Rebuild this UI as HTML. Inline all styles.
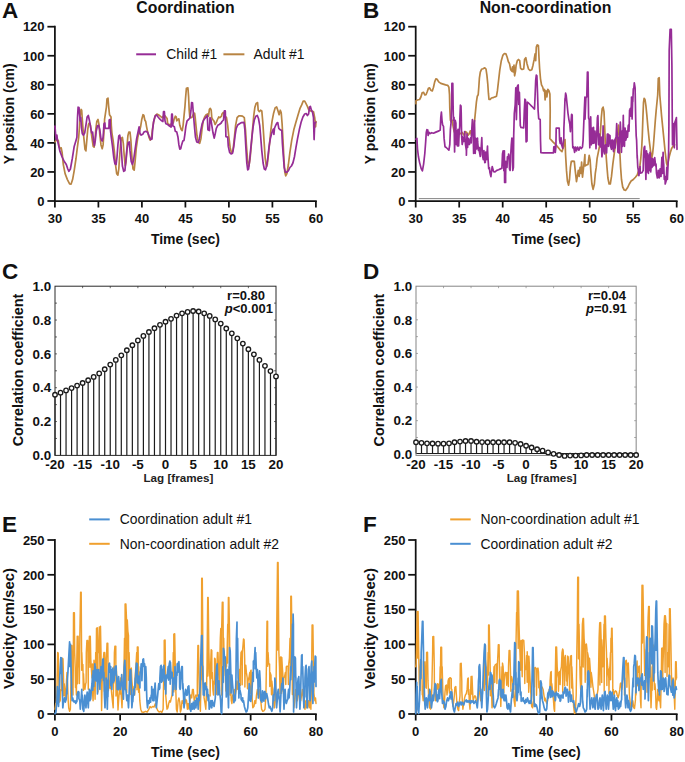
<!DOCTYPE html>
<html><head><meta charset="utf-8"><title>Figure</title>
<style>
html,body{margin:0;padding:0;background:#fff;}
body{width:685px;height:762px;overflow:hidden;font-family:"Liberation Sans",sans-serif;}
svg{display:block;font-family:"Liberation Sans",sans-serif;}
</style></head><body>
<svg width="685" height="762" viewBox="0 0 685 762">
<rect width="685" height="762" fill="#fff"/>
<g id="axes">
<line x1="54.9" y1="25.82" x2="54.9" y2="201.88" stroke="#111111" stroke-width="1.75" stroke-linecap="butt"/>
<line x1="54.02" y1="201" x2="316.77" y2="201" stroke="#111111" stroke-width="1.75" stroke-linecap="butt"/>
<line x1="54.9" y1="201" x2="54.9" y2="207.5" stroke="#111111" stroke-width="1.75" stroke-linecap="butt"/>
<text x="54.9" y="223" font-size="13.0" font-weight="bold" text-anchor="middle" fill="#111111">30</text>
<line x1="98.4" y1="201" x2="98.4" y2="207.5" stroke="#111111" stroke-width="1.75" stroke-linecap="butt"/>
<text x="98.4" y="223" font-size="13.0" font-weight="bold" text-anchor="middle" fill="#111111">35</text>
<line x1="141.9" y1="201" x2="141.9" y2="207.5" stroke="#111111" stroke-width="1.75" stroke-linecap="butt"/>
<text x="141.9" y="223" font-size="13.0" font-weight="bold" text-anchor="middle" fill="#111111">40</text>
<line x1="185.4" y1="201" x2="185.4" y2="207.5" stroke="#111111" stroke-width="1.75" stroke-linecap="butt"/>
<text x="185.4" y="223" font-size="13.0" font-weight="bold" text-anchor="middle" fill="#111111">45</text>
<line x1="228.9" y1="201" x2="228.9" y2="207.5" stroke="#111111" stroke-width="1.75" stroke-linecap="butt"/>
<text x="228.9" y="223" font-size="13.0" font-weight="bold" text-anchor="middle" fill="#111111">50</text>
<line x1="272.4" y1="201" x2="272.4" y2="207.5" stroke="#111111" stroke-width="1.75" stroke-linecap="butt"/>
<text x="272.4" y="223" font-size="13.0" font-weight="bold" text-anchor="middle" fill="#111111">55</text>
<line x1="315.9" y1="201" x2="315.9" y2="207.5" stroke="#111111" stroke-width="1.75" stroke-linecap="butt"/>
<text x="315.9" y="223" font-size="13.0" font-weight="bold" text-anchor="middle" fill="#111111">60</text>
<line x1="47.4" y1="201" x2="54.9" y2="201" stroke="#111111" stroke-width="1.75" stroke-linecap="butt"/>
<text x="44.6" y="205.75" font-size="13.0" font-weight="bold" text-anchor="end" fill="#111111">0</text>
<line x1="47.4" y1="171.95" x2="54.9" y2="171.95" stroke="#111111" stroke-width="1.75" stroke-linecap="butt"/>
<text x="44.6" y="176.7" font-size="13.0" font-weight="bold" text-anchor="end" fill="#111111">20</text>
<line x1="47.4" y1="142.9" x2="54.9" y2="142.9" stroke="#111111" stroke-width="1.75" stroke-linecap="butt"/>
<text x="44.6" y="147.65" font-size="13.0" font-weight="bold" text-anchor="end" fill="#111111">40</text>
<line x1="47.4" y1="113.85" x2="54.9" y2="113.85" stroke="#111111" stroke-width="1.75" stroke-linecap="butt"/>
<text x="44.6" y="118.6" font-size="13.0" font-weight="bold" text-anchor="end" fill="#111111">60</text>
<line x1="47.4" y1="84.8" x2="54.9" y2="84.8" stroke="#111111" stroke-width="1.75" stroke-linecap="butt"/>
<text x="44.6" y="89.55" font-size="13.0" font-weight="bold" text-anchor="end" fill="#111111">80</text>
<line x1="47.4" y1="55.75" x2="54.9" y2="55.75" stroke="#111111" stroke-width="1.75" stroke-linecap="butt"/>
<text x="44.6" y="60.5" font-size="13.0" font-weight="bold" text-anchor="end" fill="#111111">100</text>
<line x1="47.4" y1="26.7" x2="54.9" y2="26.7" stroke="#111111" stroke-width="1.75" stroke-linecap="butt"/>
<text x="44.6" y="31.45" font-size="13.0" font-weight="bold" text-anchor="end" fill="#111111">120</text>
<text x="13.9" y="113.85" font-size="14" font-weight="bold" text-anchor="middle" fill="#111111" transform="rotate(-90 13.9 113.85)">Y position (cm)</text>
<text x="185.4" y="244.4" font-size="14" font-weight="bold" text-anchor="middle" fill="#111111">Time (sec)</text>
<text x="185.5" y="13" font-size="15.8" font-weight="bold" text-anchor="middle" fill="#111111">Coordination</text>
<line x1="415.7" y1="25.82" x2="415.7" y2="201.88" stroke="#111111" stroke-width="1.75" stroke-linecap="butt"/>
<line x1="414.82" y1="201" x2="677.58" y2="201" stroke="#111111" stroke-width="1.75" stroke-linecap="butt"/>
<line x1="415.7" y1="201" x2="415.7" y2="207.5" stroke="#111111" stroke-width="1.75" stroke-linecap="butt"/>
<text x="415.7" y="223" font-size="13.0" font-weight="bold" text-anchor="middle" fill="#111111">30</text>
<line x1="459.2" y1="201" x2="459.2" y2="207.5" stroke="#111111" stroke-width="1.75" stroke-linecap="butt"/>
<text x="459.2" y="223" font-size="13.0" font-weight="bold" text-anchor="middle" fill="#111111">35</text>
<line x1="502.7" y1="201" x2="502.7" y2="207.5" stroke="#111111" stroke-width="1.75" stroke-linecap="butt"/>
<text x="502.7" y="223" font-size="13.0" font-weight="bold" text-anchor="middle" fill="#111111">40</text>
<line x1="546.2" y1="201" x2="546.2" y2="207.5" stroke="#111111" stroke-width="1.75" stroke-linecap="butt"/>
<text x="546.2" y="223" font-size="13.0" font-weight="bold" text-anchor="middle" fill="#111111">45</text>
<line x1="589.7" y1="201" x2="589.7" y2="207.5" stroke="#111111" stroke-width="1.75" stroke-linecap="butt"/>
<text x="589.7" y="223" font-size="13.0" font-weight="bold" text-anchor="middle" fill="#111111">50</text>
<line x1="633.2" y1="201" x2="633.2" y2="207.5" stroke="#111111" stroke-width="1.75" stroke-linecap="butt"/>
<text x="633.2" y="223" font-size="13.0" font-weight="bold" text-anchor="middle" fill="#111111">55</text>
<line x1="676.7" y1="201" x2="676.7" y2="207.5" stroke="#111111" stroke-width="1.75" stroke-linecap="butt"/>
<text x="676.7" y="223" font-size="13.0" font-weight="bold" text-anchor="middle" fill="#111111">60</text>
<line x1="408.2" y1="201" x2="415.7" y2="201" stroke="#111111" stroke-width="1.75" stroke-linecap="butt"/>
<text x="405.4" y="205.75" font-size="13.0" font-weight="bold" text-anchor="end" fill="#111111">0</text>
<line x1="408.2" y1="171.95" x2="415.7" y2="171.95" stroke="#111111" stroke-width="1.75" stroke-linecap="butt"/>
<text x="405.4" y="176.7" font-size="13.0" font-weight="bold" text-anchor="end" fill="#111111">20</text>
<line x1="408.2" y1="142.9" x2="415.7" y2="142.9" stroke="#111111" stroke-width="1.75" stroke-linecap="butt"/>
<text x="405.4" y="147.65" font-size="13.0" font-weight="bold" text-anchor="end" fill="#111111">40</text>
<line x1="408.2" y1="113.85" x2="415.7" y2="113.85" stroke="#111111" stroke-width="1.75" stroke-linecap="butt"/>
<text x="405.4" y="118.6" font-size="13.0" font-weight="bold" text-anchor="end" fill="#111111">60</text>
<line x1="408.2" y1="84.8" x2="415.7" y2="84.8" stroke="#111111" stroke-width="1.75" stroke-linecap="butt"/>
<text x="405.4" y="89.55" font-size="13.0" font-weight="bold" text-anchor="end" fill="#111111">80</text>
<line x1="408.2" y1="55.75" x2="415.7" y2="55.75" stroke="#111111" stroke-width="1.75" stroke-linecap="butt"/>
<text x="405.4" y="60.5" font-size="13.0" font-weight="bold" text-anchor="end" fill="#111111">100</text>
<line x1="408.2" y1="26.7" x2="415.7" y2="26.7" stroke="#111111" stroke-width="1.75" stroke-linecap="butt"/>
<text x="405.4" y="31.45" font-size="13.0" font-weight="bold" text-anchor="end" fill="#111111">120</text>
<text x="374.7" y="113.85" font-size="14" font-weight="bold" text-anchor="middle" fill="#111111" transform="rotate(-90 374.7 113.85)">Y position (cm)</text>
<text x="546.2" y="244.4" font-size="14" font-weight="bold" text-anchor="middle" fill="#111111">Time (sec)</text>
<text x="545.5" y="13" font-size="15.8" font-weight="bold" text-anchor="middle" fill="#111111">Non-coordination</text>
<text x="2" y="17.6" font-size="22.5" font-weight="bold" text-anchor="start" fill="#111111">A</text>
<text x="363" y="17.6" font-size="22.5" font-weight="bold" text-anchor="start" fill="#111111">B</text>
<line x1="136.2" y1="54.3" x2="156" y2="54.3" stroke="#962c96" stroke-width="2.0" stroke-linecap="butt"/>
<text x="166.3" y="59.2" font-size="13.9" font-weight="normal" text-anchor="start" fill="#111111">Child #1</text>
<line x1="223.4" y1="54.3" x2="244.4" y2="54.3" stroke="#b88443" stroke-width="2.0" stroke-linecap="butt"/>
<text x="253.6" y="59.2" font-size="13.9" font-weight="normal" text-anchor="start" fill="#111111">Adult #1</text>
<line x1="55" y1="455.4" x2="55" y2="396.75" stroke="#1c1c1c" stroke-width="1.2" stroke-linecap="butt"/>
<line x1="60.52" y1="455.4" x2="60.52" y2="394.65" stroke="#1c1c1c" stroke-width="1.2" stroke-linecap="butt"/>
<line x1="66.05" y1="455.4" x2="66.05" y2="392.4" stroke="#1c1c1c" stroke-width="1.2" stroke-linecap="butt"/>
<line x1="71.58" y1="455.4" x2="71.58" y2="390.1" stroke="#1c1c1c" stroke-width="1.2" stroke-linecap="butt"/>
<line x1="77.1" y1="455.4" x2="77.1" y2="387.6" stroke="#1c1c1c" stroke-width="1.2" stroke-linecap="butt"/>
<line x1="82.62" y1="455.4" x2="82.62" y2="385" stroke="#1c1c1c" stroke-width="1.2" stroke-linecap="butt"/>
<line x1="88.15" y1="455.4" x2="88.15" y2="382.2" stroke="#1c1c1c" stroke-width="1.2" stroke-linecap="butt"/>
<line x1="93.68" y1="455.4" x2="93.68" y2="378.9" stroke="#1c1c1c" stroke-width="1.2" stroke-linecap="butt"/>
<line x1="99.2" y1="455.4" x2="99.2" y2="375.4" stroke="#1c1c1c" stroke-width="1.2" stroke-linecap="butt"/>
<line x1="104.72" y1="455.4" x2="104.72" y2="371.2" stroke="#1c1c1c" stroke-width="1.2" stroke-linecap="butt"/>
<line x1="110.25" y1="455.4" x2="110.25" y2="366.6" stroke="#1c1c1c" stroke-width="1.2" stroke-linecap="butt"/>
<line x1="115.78" y1="455.4" x2="115.78" y2="361.9" stroke="#1c1c1c" stroke-width="1.2" stroke-linecap="butt"/>
<line x1="121.3" y1="455.4" x2="121.3" y2="357.3" stroke="#1c1c1c" stroke-width="1.2" stroke-linecap="butt"/>
<line x1="126.83" y1="455.4" x2="126.83" y2="352.25" stroke="#1c1c1c" stroke-width="1.2" stroke-linecap="butt"/>
<line x1="132.35" y1="455.4" x2="132.35" y2="347.2" stroke="#1c1c1c" stroke-width="1.2" stroke-linecap="butt"/>
<line x1="137.88" y1="455.4" x2="137.88" y2="342.4" stroke="#1c1c1c" stroke-width="1.2" stroke-linecap="butt"/>
<line x1="143.4" y1="455.4" x2="143.4" y2="337.9" stroke="#1c1c1c" stroke-width="1.2" stroke-linecap="butt"/>
<line x1="148.93" y1="455.4" x2="148.93" y2="334" stroke="#1c1c1c" stroke-width="1.2" stroke-linecap="butt"/>
<line x1="154.45" y1="455.4" x2="154.45" y2="330.2" stroke="#1c1c1c" stroke-width="1.2" stroke-linecap="butt"/>
<line x1="159.98" y1="455.4" x2="159.98" y2="326.85" stroke="#1c1c1c" stroke-width="1.2" stroke-linecap="butt"/>
<line x1="165.5" y1="455.4" x2="165.5" y2="323.7" stroke="#1c1c1c" stroke-width="1.2" stroke-linecap="butt"/>
<line x1="171.03" y1="455.4" x2="171.03" y2="320.8" stroke="#1c1c1c" stroke-width="1.2" stroke-linecap="butt"/>
<line x1="176.55" y1="455.4" x2="176.55" y2="317.6" stroke="#1c1c1c" stroke-width="1.2" stroke-linecap="butt"/>
<line x1="182.07" y1="455.4" x2="182.07" y2="315.3" stroke="#1c1c1c" stroke-width="1.2" stroke-linecap="butt"/>
<line x1="187.6" y1="455.4" x2="187.6" y2="313.9" stroke="#1c1c1c" stroke-width="1.2" stroke-linecap="butt"/>
<line x1="193.12" y1="455.4" x2="193.12" y2="313" stroke="#1c1c1c" stroke-width="1.2" stroke-linecap="butt"/>
<line x1="198.65" y1="455.4" x2="198.65" y2="313.5" stroke="#1c1c1c" stroke-width="1.2" stroke-linecap="butt"/>
<line x1="204.18" y1="455.4" x2="204.18" y2="315.3" stroke="#1c1c1c" stroke-width="1.2" stroke-linecap="butt"/>
<line x1="209.7" y1="455.4" x2="209.7" y2="317.9" stroke="#1c1c1c" stroke-width="1.2" stroke-linecap="butt"/>
<line x1="215.23" y1="455.4" x2="215.23" y2="321.4" stroke="#1c1c1c" stroke-width="1.2" stroke-linecap="butt"/>
<line x1="220.75" y1="455.4" x2="220.75" y2="325.6" stroke="#1c1c1c" stroke-width="1.2" stroke-linecap="butt"/>
<line x1="226.28" y1="455.4" x2="226.28" y2="330.5" stroke="#1c1c1c" stroke-width="1.2" stroke-linecap="butt"/>
<line x1="231.8" y1="455.4" x2="231.8" y2="335.3" stroke="#1c1c1c" stroke-width="1.2" stroke-linecap="butt"/>
<line x1="237.33" y1="455.4" x2="237.33" y2="340.3" stroke="#1c1c1c" stroke-width="1.2" stroke-linecap="butt"/>
<line x1="242.85" y1="455.4" x2="242.85" y2="345.6" stroke="#1c1c1c" stroke-width="1.2" stroke-linecap="butt"/>
<line x1="248.38" y1="455.4" x2="248.38" y2="351.2" stroke="#1c1c1c" stroke-width="1.2" stroke-linecap="butt"/>
<line x1="253.9" y1="455.4" x2="253.9" y2="356.3" stroke="#1c1c1c" stroke-width="1.2" stroke-linecap="butt"/>
<line x1="259.43" y1="455.4" x2="259.43" y2="361.9" stroke="#1c1c1c" stroke-width="1.2" stroke-linecap="butt"/>
<line x1="264.95" y1="455.4" x2="264.95" y2="367.8" stroke="#1c1c1c" stroke-width="1.2" stroke-linecap="butt"/>
<line x1="270.48" y1="455.4" x2="270.48" y2="373.1" stroke="#1c1c1c" stroke-width="1.2" stroke-linecap="butt"/>
<line x1="276" y1="455.4" x2="276" y2="378.4" stroke="#1c1c1c" stroke-width="1.2" stroke-linecap="butt"/>
<rect x="55" y="286.2" width="221.00" height="169.20" fill="none" stroke="#2a2a2a" stroke-width="1"/>
<circle cx="55.00" cy="394.75" r="2.25" fill="#fff" stroke="#1c1c1c" stroke-width="1.35"/>
<circle cx="60.52" cy="392.65" r="2.25" fill="#fff" stroke="#1c1c1c" stroke-width="1.35"/>
<circle cx="66.05" cy="390.40" r="2.25" fill="#fff" stroke="#1c1c1c" stroke-width="1.35"/>
<circle cx="71.58" cy="388.10" r="2.25" fill="#fff" stroke="#1c1c1c" stroke-width="1.35"/>
<circle cx="77.10" cy="385.60" r="2.25" fill="#fff" stroke="#1c1c1c" stroke-width="1.35"/>
<circle cx="82.62" cy="383.00" r="2.25" fill="#fff" stroke="#1c1c1c" stroke-width="1.35"/>
<circle cx="88.15" cy="380.20" r="2.25" fill="#fff" stroke="#1c1c1c" stroke-width="1.35"/>
<circle cx="93.68" cy="376.90" r="2.25" fill="#fff" stroke="#1c1c1c" stroke-width="1.35"/>
<circle cx="99.20" cy="373.40" r="2.25" fill="#fff" stroke="#1c1c1c" stroke-width="1.35"/>
<circle cx="104.72" cy="369.20" r="2.25" fill="#fff" stroke="#1c1c1c" stroke-width="1.35"/>
<circle cx="110.25" cy="364.60" r="2.25" fill="#fff" stroke="#1c1c1c" stroke-width="1.35"/>
<circle cx="115.78" cy="359.90" r="2.25" fill="#fff" stroke="#1c1c1c" stroke-width="1.35"/>
<circle cx="121.30" cy="355.30" r="2.25" fill="#fff" stroke="#1c1c1c" stroke-width="1.35"/>
<circle cx="126.83" cy="350.25" r="2.25" fill="#fff" stroke="#1c1c1c" stroke-width="1.35"/>
<circle cx="132.35" cy="345.20" r="2.25" fill="#fff" stroke="#1c1c1c" stroke-width="1.35"/>
<circle cx="137.88" cy="340.40" r="2.25" fill="#fff" stroke="#1c1c1c" stroke-width="1.35"/>
<circle cx="143.40" cy="335.90" r="2.25" fill="#fff" stroke="#1c1c1c" stroke-width="1.35"/>
<circle cx="148.93" cy="332.00" r="2.25" fill="#fff" stroke="#1c1c1c" stroke-width="1.35"/>
<circle cx="154.45" cy="328.20" r="2.25" fill="#fff" stroke="#1c1c1c" stroke-width="1.35"/>
<circle cx="159.98" cy="324.85" r="2.25" fill="#fff" stroke="#1c1c1c" stroke-width="1.35"/>
<circle cx="165.50" cy="321.70" r="2.25" fill="#fff" stroke="#1c1c1c" stroke-width="1.35"/>
<circle cx="171.03" cy="318.80" r="2.25" fill="#fff" stroke="#1c1c1c" stroke-width="1.35"/>
<circle cx="176.55" cy="315.60" r="2.25" fill="#fff" stroke="#1c1c1c" stroke-width="1.35"/>
<circle cx="182.07" cy="313.30" r="2.25" fill="#fff" stroke="#1c1c1c" stroke-width="1.35"/>
<circle cx="187.60" cy="311.90" r="2.25" fill="#fff" stroke="#1c1c1c" stroke-width="1.35"/>
<circle cx="193.12" cy="311.00" r="2.25" fill="#fff" stroke="#1c1c1c" stroke-width="1.35"/>
<circle cx="198.65" cy="311.50" r="2.25" fill="#fff" stroke="#1c1c1c" stroke-width="1.35"/>
<circle cx="204.18" cy="313.30" r="2.25" fill="#fff" stroke="#1c1c1c" stroke-width="1.35"/>
<circle cx="209.70" cy="315.90" r="2.25" fill="#fff" stroke="#1c1c1c" stroke-width="1.35"/>
<circle cx="215.23" cy="319.40" r="2.25" fill="#fff" stroke="#1c1c1c" stroke-width="1.35"/>
<circle cx="220.75" cy="323.60" r="2.25" fill="#fff" stroke="#1c1c1c" stroke-width="1.35"/>
<circle cx="226.28" cy="328.50" r="2.25" fill="#fff" stroke="#1c1c1c" stroke-width="1.35"/>
<circle cx="231.80" cy="333.30" r="2.25" fill="#fff" stroke="#1c1c1c" stroke-width="1.35"/>
<circle cx="237.33" cy="338.30" r="2.25" fill="#fff" stroke="#1c1c1c" stroke-width="1.35"/>
<circle cx="242.85" cy="343.60" r="2.25" fill="#fff" stroke="#1c1c1c" stroke-width="1.35"/>
<circle cx="248.38" cy="349.20" r="2.25" fill="#fff" stroke="#1c1c1c" stroke-width="1.35"/>
<circle cx="253.90" cy="354.30" r="2.25" fill="#fff" stroke="#1c1c1c" stroke-width="1.35"/>
<circle cx="259.43" cy="359.90" r="2.25" fill="#fff" stroke="#1c1c1c" stroke-width="1.35"/>
<circle cx="264.95" cy="365.80" r="2.25" fill="#fff" stroke="#1c1c1c" stroke-width="1.35"/>
<circle cx="270.48" cy="371.10" r="2.25" fill="#fff" stroke="#1c1c1c" stroke-width="1.35"/>
<circle cx="276.00" cy="376.40" r="2.25" fill="#fff" stroke="#1c1c1c" stroke-width="1.35"/>
<line x1="82.62" y1="286.2" x2="82.62" y2="288.2" stroke="#2a2a2a" stroke-width="0.7" stroke-linecap="butt"/>
<line x1="110.25" y1="286.2" x2="110.25" y2="288.2" stroke="#2a2a2a" stroke-width="0.7" stroke-linecap="butt"/>
<line x1="137.88" y1="286.2" x2="137.88" y2="288.2" stroke="#2a2a2a" stroke-width="0.7" stroke-linecap="butt"/>
<line x1="165.5" y1="286.2" x2="165.5" y2="288.2" stroke="#2a2a2a" stroke-width="0.7" stroke-linecap="butt"/>
<line x1="193.12" y1="286.2" x2="193.12" y2="288.2" stroke="#2a2a2a" stroke-width="0.7" stroke-linecap="butt"/>
<line x1="220.75" y1="286.2" x2="220.75" y2="288.2" stroke="#2a2a2a" stroke-width="0.7" stroke-linecap="butt"/>
<line x1="248.38" y1="286.2" x2="248.38" y2="288.2" stroke="#2a2a2a" stroke-width="0.7" stroke-linecap="butt"/>
<line x1="55" y1="438.48" x2="57" y2="438.48" stroke="#2a2a2a" stroke-width="0.7" stroke-linecap="butt"/>
<line x1="276" y1="438.48" x2="274" y2="438.48" stroke="#2a2a2a" stroke-width="0.7" stroke-linecap="butt"/>
<line x1="55" y1="421.56" x2="57" y2="421.56" stroke="#2a2a2a" stroke-width="0.7" stroke-linecap="butt"/>
<line x1="276" y1="421.56" x2="274" y2="421.56" stroke="#2a2a2a" stroke-width="0.7" stroke-linecap="butt"/>
<line x1="55" y1="404.64" x2="57" y2="404.64" stroke="#2a2a2a" stroke-width="0.7" stroke-linecap="butt"/>
<line x1="276" y1="404.64" x2="274" y2="404.64" stroke="#2a2a2a" stroke-width="0.7" stroke-linecap="butt"/>
<line x1="55" y1="387.72" x2="57" y2="387.72" stroke="#2a2a2a" stroke-width="0.7" stroke-linecap="butt"/>
<line x1="276" y1="387.72" x2="274" y2="387.72" stroke="#2a2a2a" stroke-width="0.7" stroke-linecap="butt"/>
<line x1="55" y1="370.8" x2="57" y2="370.8" stroke="#2a2a2a" stroke-width="0.7" stroke-linecap="butt"/>
<line x1="276" y1="370.8" x2="274" y2="370.8" stroke="#2a2a2a" stroke-width="0.7" stroke-linecap="butt"/>
<line x1="55" y1="353.88" x2="57" y2="353.88" stroke="#2a2a2a" stroke-width="0.7" stroke-linecap="butt"/>
<line x1="276" y1="353.88" x2="274" y2="353.88" stroke="#2a2a2a" stroke-width="0.7" stroke-linecap="butt"/>
<line x1="55" y1="336.96" x2="57" y2="336.96" stroke="#2a2a2a" stroke-width="0.7" stroke-linecap="butt"/>
<line x1="276" y1="336.96" x2="274" y2="336.96" stroke="#2a2a2a" stroke-width="0.7" stroke-linecap="butt"/>
<line x1="55" y1="320.04" x2="57" y2="320.04" stroke="#2a2a2a" stroke-width="0.7" stroke-linecap="butt"/>
<line x1="276" y1="320.04" x2="274" y2="320.04" stroke="#2a2a2a" stroke-width="0.7" stroke-linecap="butt"/>
<line x1="55" y1="303.12" x2="57" y2="303.12" stroke="#2a2a2a" stroke-width="0.7" stroke-linecap="butt"/>
<line x1="276" y1="303.12" x2="274" y2="303.12" stroke="#2a2a2a" stroke-width="0.7" stroke-linecap="butt"/>
<text x="55" y="468.5" font-size="13.4" font-weight="bold" text-anchor="middle" fill="#111111">-20</text>
<text x="82.62" y="468.5" font-size="13.4" font-weight="bold" text-anchor="middle" fill="#111111">-15</text>
<text x="110.25" y="468.5" font-size="13.4" font-weight="bold" text-anchor="middle" fill="#111111">-10</text>
<text x="137.88" y="468.5" font-size="13.4" font-weight="bold" text-anchor="middle" fill="#111111">-5</text>
<text x="165.5" y="468.5" font-size="13.4" font-weight="bold" text-anchor="middle" fill="#111111">0</text>
<text x="193.12" y="468.5" font-size="13.4" font-weight="bold" text-anchor="middle" fill="#111111">5</text>
<text x="220.75" y="468.5" font-size="13.4" font-weight="bold" text-anchor="middle" fill="#111111">10</text>
<text x="248.38" y="468.5" font-size="13.4" font-weight="bold" text-anchor="middle" fill="#111111">15</text>
<text x="276" y="468.5" font-size="13.4" font-weight="bold" text-anchor="middle" fill="#111111">20</text>
<text x="51.2" y="460.1" font-size="13.4" font-weight="bold" text-anchor="end" fill="#111111">0.0</text>
<text x="51.2" y="426.26" font-size="13.4" font-weight="bold" text-anchor="end" fill="#111111">0.2</text>
<text x="51.2" y="392.42" font-size="13.4" font-weight="bold" text-anchor="end" fill="#111111">0.4</text>
<text x="51.2" y="358.58" font-size="13.4" font-weight="bold" text-anchor="end" fill="#111111">0.6</text>
<text x="51.2" y="324.74" font-size="13.4" font-weight="bold" text-anchor="end" fill="#111111">0.8</text>
<text x="51.2" y="290.9" font-size="13.4" font-weight="bold" text-anchor="end" fill="#111111">1.0</text>
<text x="23" y="370" font-size="14.4" font-weight="bold" text-anchor="middle" fill="#111111" transform="rotate(-90 23 370)">Correlation coefficient</text>
<text x="178.4" y="482" font-size="11.65" font-weight="bold" text-anchor="middle" fill="#222">Lag [frames]</text>
<text x="2" y="278.5" font-size="22.5" font-weight="bold" text-anchor="start" fill="#111111">C</text>
<text x="227.1" y="300.2" font-size="13" font-weight="bold" text-anchor="start" fill="#111111">r=0.80</text>
<text x="224.8" y="313.3" font-size="13" font-weight="bold" fill="#111111"><tspan font-style="italic">p</tspan>&lt;0.001</text>
<line x1="416" y1="453.5" x2="416" y2="444.25" stroke="#1c1c1c" stroke-width="1.2" stroke-linecap="butt"/>
<line x1="421.5" y1="453.5" x2="421.5" y2="444.8" stroke="#1c1c1c" stroke-width="1.2" stroke-linecap="butt"/>
<line x1="427.01" y1="453.5" x2="427.01" y2="445.3" stroke="#1c1c1c" stroke-width="1.2" stroke-linecap="butt"/>
<line x1="432.51" y1="453.5" x2="432.51" y2="445.5" stroke="#1c1c1c" stroke-width="1.2" stroke-linecap="butt"/>
<line x1="438.02" y1="453.5" x2="438.02" y2="445.65" stroke="#1c1c1c" stroke-width="1.2" stroke-linecap="butt"/>
<line x1="443.52" y1="453.5" x2="443.52" y2="445.65" stroke="#1c1c1c" stroke-width="1.2" stroke-linecap="butt"/>
<line x1="449.02" y1="453.5" x2="449.02" y2="445.3" stroke="#1c1c1c" stroke-width="1.2" stroke-linecap="butt"/>
<line x1="454.53" y1="453.5" x2="454.53" y2="444.25" stroke="#1c1c1c" stroke-width="1.2" stroke-linecap="butt"/>
<line x1="460.03" y1="453.5" x2="460.03" y2="443.55" stroke="#1c1c1c" stroke-width="1.2" stroke-linecap="butt"/>
<line x1="465.54" y1="453.5" x2="465.54" y2="443" stroke="#1c1c1c" stroke-width="1.2" stroke-linecap="butt"/>
<line x1="471.04" y1="453.5" x2="471.04" y2="443" stroke="#1c1c1c" stroke-width="1.2" stroke-linecap="butt"/>
<line x1="476.54" y1="453.5" x2="476.54" y2="443.7" stroke="#1c1c1c" stroke-width="1.2" stroke-linecap="butt"/>
<line x1="482.05" y1="453.5" x2="482.05" y2="444.1" stroke="#1c1c1c" stroke-width="1.2" stroke-linecap="butt"/>
<line x1="487.55" y1="453.5" x2="487.55" y2="444.25" stroke="#1c1c1c" stroke-width="1.2" stroke-linecap="butt"/>
<line x1="493.06" y1="453.5" x2="493.06" y2="444.25" stroke="#1c1c1c" stroke-width="1.2" stroke-linecap="butt"/>
<line x1="498.56" y1="453.5" x2="498.56" y2="444.25" stroke="#1c1c1c" stroke-width="1.2" stroke-linecap="butt"/>
<line x1="504.06" y1="453.5" x2="504.06" y2="444.25" stroke="#1c1c1c" stroke-width="1.2" stroke-linecap="butt"/>
<line x1="509.57" y1="453.5" x2="509.57" y2="444.25" stroke="#1c1c1c" stroke-width="1.2" stroke-linecap="butt"/>
<line x1="515.07" y1="453.5" x2="515.07" y2="444.8" stroke="#1c1c1c" stroke-width="1.2" stroke-linecap="butt"/>
<line x1="520.58" y1="453.5" x2="520.58" y2="446" stroke="#1c1c1c" stroke-width="1.2" stroke-linecap="butt"/>
<line x1="526.08" y1="453.5" x2="526.08" y2="447.75" stroke="#1c1c1c" stroke-width="1.2" stroke-linecap="butt"/>
<line x1="531.58" y1="453.5" x2="531.58" y2="449.5" stroke="#1c1c1c" stroke-width="1.2" stroke-linecap="butt"/>
<line x1="537.09" y1="453.5" x2="537.09" y2="451.25" stroke="#1c1c1c" stroke-width="1.2" stroke-linecap="butt"/>
<line x1="542.59" y1="453.5" x2="542.59" y2="452.65" stroke="#1c1c1c" stroke-width="1.2" stroke-linecap="butt"/>
<line x1="416" y1="453.5" x2="636.16" y2="453.5" stroke="#1c1c1c" stroke-width="1.0" stroke-linecap="butt"/>
<rect x="416" y="286.2" width="220.16" height="169.20" fill="none" stroke="#858585" stroke-width="1"/>
<circle cx="416.00" cy="442.25" r="2.25" fill="#fff" stroke="#1c1c1c" stroke-width="1.35"/>
<circle cx="421.50" cy="442.80" r="2.25" fill="#fff" stroke="#1c1c1c" stroke-width="1.35"/>
<circle cx="427.01" cy="443.30" r="2.25" fill="#fff" stroke="#1c1c1c" stroke-width="1.35"/>
<circle cx="432.51" cy="443.50" r="2.25" fill="#fff" stroke="#1c1c1c" stroke-width="1.35"/>
<circle cx="438.02" cy="443.65" r="2.25" fill="#fff" stroke="#1c1c1c" stroke-width="1.35"/>
<circle cx="443.52" cy="443.65" r="2.25" fill="#fff" stroke="#1c1c1c" stroke-width="1.35"/>
<circle cx="449.02" cy="443.30" r="2.25" fill="#fff" stroke="#1c1c1c" stroke-width="1.35"/>
<circle cx="454.53" cy="442.25" r="2.25" fill="#fff" stroke="#1c1c1c" stroke-width="1.35"/>
<circle cx="460.03" cy="441.55" r="2.25" fill="#fff" stroke="#1c1c1c" stroke-width="1.35"/>
<circle cx="465.54" cy="441.00" r="2.25" fill="#fff" stroke="#1c1c1c" stroke-width="1.35"/>
<circle cx="471.04" cy="441.00" r="2.25" fill="#fff" stroke="#1c1c1c" stroke-width="1.35"/>
<circle cx="476.54" cy="441.70" r="2.25" fill="#fff" stroke="#1c1c1c" stroke-width="1.35"/>
<circle cx="482.05" cy="442.10" r="2.25" fill="#fff" stroke="#1c1c1c" stroke-width="1.35"/>
<circle cx="487.55" cy="442.25" r="2.25" fill="#fff" stroke="#1c1c1c" stroke-width="1.35"/>
<circle cx="493.06" cy="442.25" r="2.25" fill="#fff" stroke="#1c1c1c" stroke-width="1.35"/>
<circle cx="498.56" cy="442.25" r="2.25" fill="#fff" stroke="#1c1c1c" stroke-width="1.35"/>
<circle cx="504.06" cy="442.25" r="2.25" fill="#fff" stroke="#1c1c1c" stroke-width="1.35"/>
<circle cx="509.57" cy="442.25" r="2.25" fill="#fff" stroke="#1c1c1c" stroke-width="1.35"/>
<circle cx="515.07" cy="442.80" r="2.25" fill="#fff" stroke="#1c1c1c" stroke-width="1.35"/>
<circle cx="520.58" cy="444.00" r="2.25" fill="#fff" stroke="#1c1c1c" stroke-width="1.35"/>
<circle cx="526.08" cy="445.75" r="2.25" fill="#fff" stroke="#1c1c1c" stroke-width="1.35"/>
<circle cx="531.58" cy="447.50" r="2.25" fill="#fff" stroke="#1c1c1c" stroke-width="1.35"/>
<circle cx="537.09" cy="449.25" r="2.25" fill="#fff" stroke="#1c1c1c" stroke-width="1.35"/>
<circle cx="542.59" cy="450.65" r="2.25" fill="#fff" stroke="#1c1c1c" stroke-width="1.35"/>
<circle cx="548.10" cy="452.40" r="2.25" fill="#fff" stroke="#1c1c1c" stroke-width="1.35"/>
<circle cx="553.60" cy="453.80" r="2.25" fill="#fff" stroke="#1c1c1c" stroke-width="1.35"/>
<circle cx="559.10" cy="455.00" r="2.25" fill="#fff" stroke="#1c1c1c" stroke-width="1.35"/>
<circle cx="564.61" cy="455.90" r="2.25" fill="#fff" stroke="#1c1c1c" stroke-width="1.35"/>
<circle cx="570.11" cy="455.55" r="2.25" fill="#fff" stroke="#1c1c1c" stroke-width="1.35"/>
<circle cx="575.62" cy="455.55" r="2.25" fill="#fff" stroke="#1c1c1c" stroke-width="1.35"/>
<circle cx="581.12" cy="455.40" r="2.25" fill="#fff" stroke="#1c1c1c" stroke-width="1.35"/>
<circle cx="586.62" cy="455.00" r="2.25" fill="#fff" stroke="#1c1c1c" stroke-width="1.35"/>
<circle cx="592.13" cy="455.00" r="2.25" fill="#fff" stroke="#1c1c1c" stroke-width="1.35"/>
<circle cx="597.63" cy="455.00" r="2.25" fill="#fff" stroke="#1c1c1c" stroke-width="1.35"/>
<circle cx="603.14" cy="455.00" r="2.25" fill="#fff" stroke="#1c1c1c" stroke-width="1.35"/>
<circle cx="608.64" cy="455.00" r="2.25" fill="#fff" stroke="#1c1c1c" stroke-width="1.35"/>
<circle cx="614.14" cy="455.00" r="2.25" fill="#fff" stroke="#1c1c1c" stroke-width="1.35"/>
<circle cx="619.65" cy="455.00" r="2.25" fill="#fff" stroke="#1c1c1c" stroke-width="1.35"/>
<circle cx="625.15" cy="455.00" r="2.25" fill="#fff" stroke="#1c1c1c" stroke-width="1.35"/>
<circle cx="630.66" cy="455.00" r="2.25" fill="#fff" stroke="#1c1c1c" stroke-width="1.35"/>
<circle cx="636.16" cy="455.00" r="2.25" fill="#fff" stroke="#1c1c1c" stroke-width="1.35"/>
<line x1="443.52" y1="286.2" x2="443.52" y2="288.2" stroke="#858585" stroke-width="0.7" stroke-linecap="butt"/>
<line x1="471.04" y1="286.2" x2="471.04" y2="288.2" stroke="#858585" stroke-width="0.7" stroke-linecap="butt"/>
<line x1="498.56" y1="286.2" x2="498.56" y2="288.2" stroke="#858585" stroke-width="0.7" stroke-linecap="butt"/>
<line x1="526.08" y1="286.2" x2="526.08" y2="288.2" stroke="#858585" stroke-width="0.7" stroke-linecap="butt"/>
<line x1="553.6" y1="286.2" x2="553.6" y2="288.2" stroke="#858585" stroke-width="0.7" stroke-linecap="butt"/>
<line x1="581.12" y1="286.2" x2="581.12" y2="288.2" stroke="#858585" stroke-width="0.7" stroke-linecap="butt"/>
<line x1="608.64" y1="286.2" x2="608.64" y2="288.2" stroke="#858585" stroke-width="0.7" stroke-linecap="butt"/>
<line x1="416" y1="437.49" x2="418" y2="437.49" stroke="#858585" stroke-width="0.7" stroke-linecap="butt"/>
<line x1="636.16" y1="437.49" x2="634.16" y2="437.49" stroke="#858585" stroke-width="0.7" stroke-linecap="butt"/>
<line x1="416" y1="420.68" x2="418" y2="420.68" stroke="#858585" stroke-width="0.7" stroke-linecap="butt"/>
<line x1="636.16" y1="420.68" x2="634.16" y2="420.68" stroke="#858585" stroke-width="0.7" stroke-linecap="butt"/>
<line x1="416" y1="403.87" x2="418" y2="403.87" stroke="#858585" stroke-width="0.7" stroke-linecap="butt"/>
<line x1="636.16" y1="403.87" x2="634.16" y2="403.87" stroke="#858585" stroke-width="0.7" stroke-linecap="butt"/>
<line x1="416" y1="387.06" x2="418" y2="387.06" stroke="#858585" stroke-width="0.7" stroke-linecap="butt"/>
<line x1="636.16" y1="387.06" x2="634.16" y2="387.06" stroke="#858585" stroke-width="0.7" stroke-linecap="butt"/>
<line x1="416" y1="370.25" x2="418" y2="370.25" stroke="#858585" stroke-width="0.7" stroke-linecap="butt"/>
<line x1="636.16" y1="370.25" x2="634.16" y2="370.25" stroke="#858585" stroke-width="0.7" stroke-linecap="butt"/>
<line x1="416" y1="353.44" x2="418" y2="353.44" stroke="#858585" stroke-width="0.7" stroke-linecap="butt"/>
<line x1="636.16" y1="353.44" x2="634.16" y2="353.44" stroke="#858585" stroke-width="0.7" stroke-linecap="butt"/>
<line x1="416" y1="336.63" x2="418" y2="336.63" stroke="#858585" stroke-width="0.7" stroke-linecap="butt"/>
<line x1="636.16" y1="336.63" x2="634.16" y2="336.63" stroke="#858585" stroke-width="0.7" stroke-linecap="butt"/>
<line x1="416" y1="319.82" x2="418" y2="319.82" stroke="#858585" stroke-width="0.7" stroke-linecap="butt"/>
<line x1="636.16" y1="319.82" x2="634.16" y2="319.82" stroke="#858585" stroke-width="0.7" stroke-linecap="butt"/>
<line x1="416" y1="303.01" x2="418" y2="303.01" stroke="#858585" stroke-width="0.7" stroke-linecap="butt"/>
<line x1="636.16" y1="303.01" x2="634.16" y2="303.01" stroke="#858585" stroke-width="0.7" stroke-linecap="butt"/>
<text x="416" y="468.5" font-size="13.4" font-weight="bold" text-anchor="middle" fill="#111111">-20</text>
<text x="443.52" y="468.5" font-size="13.4" font-weight="bold" text-anchor="middle" fill="#111111">-15</text>
<text x="471.04" y="468.5" font-size="13.4" font-weight="bold" text-anchor="middle" fill="#111111">-10</text>
<text x="498.56" y="468.5" font-size="13.4" font-weight="bold" text-anchor="middle" fill="#111111">-5</text>
<text x="526.08" y="468.5" font-size="13.4" font-weight="bold" text-anchor="middle" fill="#111111">0</text>
<text x="553.6" y="468.5" font-size="13.4" font-weight="bold" text-anchor="middle" fill="#111111">5</text>
<text x="581.12" y="468.5" font-size="13.4" font-weight="bold" text-anchor="middle" fill="#111111">10</text>
<text x="608.64" y="468.5" font-size="13.4" font-weight="bold" text-anchor="middle" fill="#111111">15</text>
<text x="636.16" y="468.5" font-size="13.4" font-weight="bold" text-anchor="middle" fill="#111111">20</text>
<text x="412.2" y="459" font-size="13.4" font-weight="bold" text-anchor="end" fill="#111111">0.0</text>
<text x="412.2" y="425.38" font-size="13.4" font-weight="bold" text-anchor="end" fill="#111111">0.2</text>
<text x="412.2" y="391.76" font-size="13.4" font-weight="bold" text-anchor="end" fill="#111111">0.4</text>
<text x="412.2" y="358.14" font-size="13.4" font-weight="bold" text-anchor="end" fill="#111111">0.6</text>
<text x="412.2" y="324.52" font-size="13.4" font-weight="bold" text-anchor="end" fill="#111111">0.8</text>
<text x="412.2" y="290.9" font-size="13.4" font-weight="bold" text-anchor="end" fill="#111111">1.0</text>
<text x="384" y="370" font-size="14.4" font-weight="bold" text-anchor="middle" fill="#111111" transform="rotate(-90 384 370)">Correlation coefficient</text>
<text x="541.7" y="482" font-size="11.65" font-weight="bold" text-anchor="middle" fill="#222">Lag [frames]</text>
<text x="363" y="278.5" font-size="22.5" font-weight="bold" text-anchor="start" fill="#111111">D</text>
<text x="588" y="300.2" font-size="13" font-weight="bold" text-anchor="start" fill="#111111">r=0.04</text>
<text x="586" y="313.3" font-size="13" font-weight="bold" fill="#111111"><tspan font-style="italic">p</tspan>=0.91</text>
<line x1="54.9" y1="539.12" x2="54.9" y2="714.88" stroke="#111111" stroke-width="1.75" stroke-linecap="butt"/>
<line x1="54.02" y1="714" x2="316.77" y2="714" stroke="#111111" stroke-width="1.75" stroke-linecap="butt"/>
<line x1="54.9" y1="714" x2="54.9" y2="720.5" stroke="#111111" stroke-width="1.75" stroke-linecap="butt"/>
<text x="54.9" y="735.8" font-size="13.0" font-weight="bold" text-anchor="middle" fill="#111111">0</text>
<line x1="120.15" y1="714" x2="120.15" y2="720.5" stroke="#111111" stroke-width="1.75" stroke-linecap="butt"/>
<text x="120.15" y="735.8" font-size="13.0" font-weight="bold" text-anchor="middle" fill="#111111">20</text>
<line x1="185.4" y1="714" x2="185.4" y2="720.5" stroke="#111111" stroke-width="1.75" stroke-linecap="butt"/>
<text x="185.4" y="735.8" font-size="13.0" font-weight="bold" text-anchor="middle" fill="#111111">40</text>
<line x1="250.65" y1="714" x2="250.65" y2="720.5" stroke="#111111" stroke-width="1.75" stroke-linecap="butt"/>
<text x="250.65" y="735.8" font-size="13.0" font-weight="bold" text-anchor="middle" fill="#111111">60</text>
<line x1="315.9" y1="714" x2="315.9" y2="720.5" stroke="#111111" stroke-width="1.75" stroke-linecap="butt"/>
<text x="315.9" y="735.8" font-size="13.0" font-weight="bold" text-anchor="middle" fill="#111111">80</text>
<line x1="47.4" y1="714" x2="54.9" y2="714" stroke="#111111" stroke-width="1.75" stroke-linecap="butt"/>
<text x="44.6" y="718.75" font-size="13.0" font-weight="bold" text-anchor="end" fill="#111111">0</text>
<line x1="47.4" y1="679.2" x2="54.9" y2="679.2" stroke="#111111" stroke-width="1.75" stroke-linecap="butt"/>
<text x="44.6" y="683.95" font-size="13.0" font-weight="bold" text-anchor="end" fill="#111111">50</text>
<line x1="47.4" y1="644.4" x2="54.9" y2="644.4" stroke="#111111" stroke-width="1.75" stroke-linecap="butt"/>
<text x="44.6" y="649.15" font-size="13.0" font-weight="bold" text-anchor="end" fill="#111111">100</text>
<line x1="47.4" y1="609.6" x2="54.9" y2="609.6" stroke="#111111" stroke-width="1.75" stroke-linecap="butt"/>
<text x="44.6" y="614.35" font-size="13.0" font-weight="bold" text-anchor="end" fill="#111111">150</text>
<line x1="47.4" y1="574.8" x2="54.9" y2="574.8" stroke="#111111" stroke-width="1.75" stroke-linecap="butt"/>
<text x="44.6" y="579.55" font-size="13.0" font-weight="bold" text-anchor="end" fill="#111111">200</text>
<line x1="47.4" y1="540" x2="54.9" y2="540" stroke="#111111" stroke-width="1.75" stroke-linecap="butt"/>
<text x="44.6" y="544.75" font-size="13.0" font-weight="bold" text-anchor="end" fill="#111111">250</text>
<text x="14.1" y="628.5" font-size="14.9" font-weight="bold" text-anchor="middle" fill="#111111" transform="rotate(-90 14.1 628.5)">Velocity (cm/sec)</text>
<text x="185.4" y="757.2" font-size="14" font-weight="bold" text-anchor="middle" fill="#111111">Time (sec)</text>
<line x1="415.7" y1="539.12" x2="415.7" y2="714.88" stroke="#111111" stroke-width="1.75" stroke-linecap="butt"/>
<line x1="414.82" y1="714" x2="677.58" y2="714" stroke="#111111" stroke-width="1.75" stroke-linecap="butt"/>
<line x1="415.7" y1="714" x2="415.7" y2="720.5" stroke="#111111" stroke-width="1.75" stroke-linecap="butt"/>
<text x="415.7" y="735.8" font-size="13.0" font-weight="bold" text-anchor="middle" fill="#111111">0</text>
<line x1="480.95" y1="714" x2="480.95" y2="720.5" stroke="#111111" stroke-width="1.75" stroke-linecap="butt"/>
<text x="480.95" y="735.8" font-size="13.0" font-weight="bold" text-anchor="middle" fill="#111111">20</text>
<line x1="546.2" y1="714" x2="546.2" y2="720.5" stroke="#111111" stroke-width="1.75" stroke-linecap="butt"/>
<text x="546.2" y="735.8" font-size="13.0" font-weight="bold" text-anchor="middle" fill="#111111">40</text>
<line x1="611.45" y1="714" x2="611.45" y2="720.5" stroke="#111111" stroke-width="1.75" stroke-linecap="butt"/>
<text x="611.45" y="735.8" font-size="13.0" font-weight="bold" text-anchor="middle" fill="#111111">60</text>
<line x1="676.7" y1="714" x2="676.7" y2="720.5" stroke="#111111" stroke-width="1.75" stroke-linecap="butt"/>
<text x="676.7" y="735.8" font-size="13.0" font-weight="bold" text-anchor="middle" fill="#111111">80</text>
<line x1="408.2" y1="714" x2="415.7" y2="714" stroke="#111111" stroke-width="1.75" stroke-linecap="butt"/>
<text x="405.4" y="718.75" font-size="13.0" font-weight="bold" text-anchor="end" fill="#111111">0</text>
<line x1="408.2" y1="679.2" x2="415.7" y2="679.2" stroke="#111111" stroke-width="1.75" stroke-linecap="butt"/>
<text x="405.4" y="683.95" font-size="13.0" font-weight="bold" text-anchor="end" fill="#111111">50</text>
<line x1="408.2" y1="644.4" x2="415.7" y2="644.4" stroke="#111111" stroke-width="1.75" stroke-linecap="butt"/>
<text x="405.4" y="649.15" font-size="13.0" font-weight="bold" text-anchor="end" fill="#111111">100</text>
<line x1="408.2" y1="609.6" x2="415.7" y2="609.6" stroke="#111111" stroke-width="1.75" stroke-linecap="butt"/>
<text x="405.4" y="614.35" font-size="13.0" font-weight="bold" text-anchor="end" fill="#111111">150</text>
<line x1="408.2" y1="574.8" x2="415.7" y2="574.8" stroke="#111111" stroke-width="1.75" stroke-linecap="butt"/>
<text x="405.4" y="579.55" font-size="13.0" font-weight="bold" text-anchor="end" fill="#111111">200</text>
<line x1="408.2" y1="540" x2="415.7" y2="540" stroke="#111111" stroke-width="1.75" stroke-linecap="butt"/>
<text x="405.4" y="544.75" font-size="13.0" font-weight="bold" text-anchor="end" fill="#111111">250</text>
<text x="374.9" y="628.5" font-size="14.9" font-weight="bold" text-anchor="middle" fill="#111111" transform="rotate(-90 374.9 628.5)">Velocity (cm/sec)</text>
<text x="546.2" y="757.2" font-size="14" font-weight="bold" text-anchor="middle" fill="#111111">Time (sec)</text>
<text x="2" y="532.2" font-size="22.5" font-weight="bold" text-anchor="start" fill="#111111">E</text>
<text x="363" y="532.2" font-size="22.5" font-weight="bold" text-anchor="start" fill="#111111">F</text>
<line x1="89.2" y1="519.4" x2="109.7" y2="519.4" stroke="#4a8fd2" stroke-width="2.0" stroke-linecap="butt"/>
<text x="119.8" y="524.2" font-size="13.9" font-weight="normal" text-anchor="start" fill="#111111">Coordination adult #1</text>
<line x1="89.2" y1="543.8" x2="109.7" y2="543.8" stroke="#f0a02e" stroke-width="2.0" stroke-linecap="butt"/>
<text x="119.8" y="548.9" font-size="13.9" font-weight="normal" text-anchor="start" fill="#111111">Non-coordination adult #2</text>
<line x1="450.2" y1="519.4" x2="470.7" y2="519.4" stroke="#f0a02e" stroke-width="2.0" stroke-linecap="butt"/>
<text x="480.4" y="524.2" font-size="13.9" font-weight="normal" text-anchor="start" fill="#111111">Non-coordination adult #1</text>
<line x1="450.2" y1="543.8" x2="470.7" y2="543.8" stroke="#4a8fd2" stroke-width="2.0" stroke-linecap="butt"/>
<text x="480.4" y="548.9" font-size="13.9" font-weight="normal" text-anchor="start" fill="#111111">Coordination adult #2</text>
</g>
<g id="curves">
<polyline points="55.0,141.9 56.8,139.6 58.3,140.4 59.1,146.4 60.3,148.7 61.2,147.9 62.1,152.4 63.3,164.5 65.1,173.6 67.4,179.6 69.6,183.8 71.1,184.1 72.6,179.6 74.2,170.6 76.0,158.5 77.5,146.4 78.7,137.3 79.6,125.3 80.2,114.7 81.1,109.4 81.7,110.2 82.3,119.2 83.2,131.3 84.1,140.4 85.0,149.4 85.9,150.9 86.8,140.4 87.7,129.8 88.6,123.8 89.5,123.0 90.5,125.3 91.3,132.8 92.3,140.4 93.2,146.4 94.1,147.2 95.0,140.4 95.9,128.3 96.8,121.5 98.0,119.5 98.9,123.8 99.8,134.3 101.0,144.9 102.2,148.7 103.1,144.9 104.0,131.3 104.6,119.2 105.5,113.2 106.4,107.2 107.0,98.9 108.0,98.1 108.6,105.7 109.5,114.7 111.0,117.0 111.3,125.3 111.9,132.8 113.1,140.4 114.3,150.9 115.5,164.5 116.7,173.6 117.9,175.1 118.8,169.0 119.7,155.5 120.6,143.4 121.5,138.1 122.4,137.3 123.3,143.4 124.2,155.5 125.2,166.0 126.1,161.5 127.0,146.4 127.9,135.8 128.8,132.1 129.7,132.1 130.0,132.1 130.9,140.4 131.8,155.5 133.0,169.0 134.2,170.2 135.1,161.5 136.3,147.9 137.8,137.3 139.4,131.3 140.6,126.8 141.8,119.2 143.0,114.7 143.9,115.5 144.8,120.0 145.7,121.5 146.6,126.8 147.8,132.8 149.0,137.3 150.2,140.1 151.4,138.1 152.6,128.3 153.8,120.8 155.3,115.5 156.9,114.0 158.7,115.0 160.2,116.2 162.0,117.7 163.2,116.2 164.7,115.5 165.9,117.0 167.1,118.5 167.7,123.8 169.2,124.5 170.4,125.3 171.3,123.8 173.2,123.0 174.1,119.2 175.3,116.2 176.2,117.0 176.8,120.8 178.0,119.2 178.9,118.9 179.8,125.3 181.0,129.1 182.2,130.6 183.1,125.3 184.0,116.2 184.9,107.2 185.5,98.9 186.4,88.3 187.9,87.8 188.6,96.6 189.2,110.2 189.8,117.0 191.0,117.7 192.2,117.0 193.4,114.0 194.6,113.2 195.2,117.7 196.1,126.8 197.0,135.8 198.2,141.1 199.7,143.4 200.9,138.9 202.1,128.3 203.3,120.8 204.6,117.0 206.1,114.7 207.6,114.0 208.5,116.2 209.4,109.4 210.3,108.4 211.2,110.2 211.8,117.7 212.7,119.5 213.9,120.8 215.1,124.5 216.3,122.3 217.5,119.5 218.7,117.0 219.9,117.7 221.5,116.2 222.0,114.0 223.2,112.5 224.1,114.0 225.0,116.2 226.5,117.7 227.7,125.3 228.9,137.3 230.2,147.9 231.4,152.4 232.9,150.9 234.1,140.4 235.6,125.3 237.1,117.7 238.9,115.8 240.7,115.8 242.5,116.2 244.3,117.7 245.5,129.8 246.4,144.9 247.7,161.5 248.9,166.0 250.1,158.5 251.3,144.9 252.5,129.8 253.7,116.2 254.9,107.2 256.1,103.4 257.6,102.6 258.2,110.2 259.4,111.7 260.6,110.2 261.8,110.9 262.8,122.3 264.0,140.4 265.2,158.5 266.4,166.8 267.3,164.5 268.5,153.9 269.7,141.9 270.9,129.8 272.1,120.8 273.6,113.2 275.1,107.9 276.6,106.9 277.8,110.2 279.1,114.7 280.3,110.2 281.2,112.5 282.1,123.8 283.0,140.4 283.9,158.5 284.8,172.1 285.7,175.8 286.9,173.6 288.4,164.5 289.9,152.4 291.7,140.4 293.8,129.8 295.9,122.3 298.1,114.7 299.9,108.7 301.7,104.9 303.2,101.1 304.7,101.1 305.9,103.4 307.4,106.4 308.6,109.4 310.1,110.9 311.9,110.9 313.5,111.7 314.7,117.7 315.6,126.8 316.0,121.5" fill="none" stroke="#b88443" stroke-width="1.7" stroke-linejoin="round" stroke-linecap="round"/>
<polyline points="55.0,126.0 55.7,135.8 56.3,139.6 56.9,135.1 57.5,140.4 58.5,144.9 59.8,150.9 62.1,157.0 64.3,161.5 66.3,164.5 67.8,169.0 68.9,171.3 70.4,169.0 72.3,158.5 74.2,146.4 76.0,140.4 76.9,137.3 77.5,117.7 78.1,107.2 79.0,107.5 79.6,114.7 80.2,120.8 80.8,117.7 81.4,126.8 82.3,133.6 83.5,135.1 84.7,132.8 85.9,125.3 87.1,117.0 88.3,115.5 89.5,120.8 90.8,128.3 91.7,132.8 92.6,132.1 93.5,140.4 94.4,145.7 95.3,140.4 96.2,131.3 97.4,126.0 98.6,125.3 99.8,129.8 101.0,138.9 102.2,141.1 103.1,137.3 104.0,123.8 104.9,123.0 105.2,128.3 108.9,128.3 109.2,120.0 110.1,119.5 110.4,129.8 111.3,137.3 112.5,146.4 113.7,157.0 114.9,163.8 116.1,164.5 117.0,157.0 117.9,144.9 118.8,135.8 119.7,135.1 120.6,140.4 121.5,152.4 122.4,166.0 123.7,171.3 124.9,170.6 125.8,161.5 127.0,149.4 128.2,142.6 129.4,141.9 130.0,150.9 131.2,161.5 132.4,164.5 133.6,160.0 135.1,149.4 136.6,138.9 138.2,131.3 139.1,126.8 140.0,133.6 141.2,135.1 142.7,134.3 143.9,132.1 145.7,131.3 147.5,132.1 149.0,135.8 150.8,139.6 152.0,138.9 152.6,129.8 153.5,122.3 155.1,116.2 156.6,115.0 158.1,117.0 159.9,119.2 161.7,120.8 162.9,121.5 163.5,111.7 164.4,111.7 165.0,120.8 165.9,123.8 167.7,124.5 169.5,126.0 171.1,127.1 171.7,114.0 172.3,114.0 172.9,126.0 174.4,126.8 175.3,131.3 176.8,132.1 178.0,137.3 178.9,144.9 179.8,149.1 180.7,148.7 181.6,144.9 182.8,141.1 184.0,140.4 184.9,134.3 185.8,126.8 187.1,120.8 188.6,119.5 190.1,117.7 191.0,110.2 191.6,102.6 192.5,102.9 193.1,110.2 193.7,117.7 194.6,128.3 195.5,137.3 196.7,141.9 198.2,142.6 199.4,138.9 200.6,131.3 202.1,123.8 203.7,120.0 205.5,117.7 207.3,115.5 207.9,129.8 209.4,130.6 210.0,117.7 210.9,119.5 211.8,125.3 213.0,132.8 214.2,138.1 215.1,134.3 216.3,128.3 217.8,125.3 219.3,124.5 221.2,123.0 222.0,121.5 223.5,120.0 224.4,110.9 225.3,110.9 225.9,136.6 227.7,137.1 228.3,146.4 229.6,152.4 231.1,153.9 232.6,153.2 233.8,146.4 235.0,135.8 236.2,128.3 237.7,125.0 239.5,123.8 241.6,122.6 244.0,122.3 244.9,129.8 245.8,146.4 246.8,163.0 247.7,169.8 248.6,169.0 249.5,161.5 250.7,149.4 251.9,137.3 253.1,126.8 254.3,120.0 255.8,116.2 257.3,115.5 258.5,118.5 259.7,125.3 260.6,135.8 261.8,150.9 263.1,163.0 264.3,169.0 265.5,169.8 266.7,166.0 267.9,157.0 269.1,146.4 270.3,138.9 271.8,132.8 273.3,129.1 273.9,134.3 274.5,128.3 275.7,125.3 276.9,123.0 277.8,122.6 278.8,128.3 280.3,129.8 281.8,130.6 282.4,143.4 283.3,155.5 284.2,167.5 285.4,172.1 286.9,172.1 288.4,170.6 289.9,167.5 291.4,166.0 292.9,163.0 294.4,157.0 295.9,147.9 297.5,138.9 299.3,129.8 301.1,122.3 302.9,117.0 304.7,114.0 306.2,113.5 307.4,115.5 308.6,114.0 309.5,107.2 310.4,106.4 311.4,110.2 312.6,112.5 313.5,117.7 314.1,139.6 314.7,123.8 315.6,122.3" fill="none" stroke="#962c96" stroke-width="1.7" stroke-linejoin="round" stroke-linecap="round"/>
<polyline points="419.2,198.6 639.3,198.6" fill="none" stroke="#666" stroke-width="0.8" stroke-linejoin="round" stroke-linecap="round"/>
<polyline points="416.0,103.7 416.0,100.7 417.5,100.0 419.6,99.5 420.9,97.0 422.1,92.9 423.6,92.4 424.8,95.0 426.0,94.7 427.2,91.7 428.4,88.4 429.6,87.9 430.8,90.2 432.3,90.9 433.5,87.2 434.7,81.9 435.9,78.8 437.1,79.3 438.7,81.9 440.8,83.4 443.2,84.1 445.6,84.9 447.7,85.3 448.9,87.2 449.5,94.7 449.8,108.3 450.4,120.3 451.3,121.8 452.2,120.3 453.1,126.4 454.0,130.9 455.2,133.9 458.3,134.7 462.2,132.4 463.1,133.9 464.3,135.4 465.5,131.6 466.7,132.4 467.9,135.4 469.1,133.9 470.3,130.9 471.5,135.4 472.4,132.4 473.4,126.4 474.6,120.3 475.5,111.3 476.4,102.2 477.3,96.2 478.2,94.7 478.8,87.2 479.4,78.1 480.3,72.1 481.5,69.3 483.0,68.8 484.8,67.8 486.0,69.0 486.9,75.1 487.8,84.1 488.4,93.2 489.0,99.5 490.2,99.5 491.4,98.0 493.0,97.7 494.5,97.0 495.0,96.9 496.5,96.2 497.4,90.9 498.6,80.3 499.8,69.8 501.3,60.7 502.8,55.4 504.4,53.5 505.9,53.9 507.1,57.0 508.3,61.5 509.5,63.7 510.7,69.8 511.9,71.3 512.5,66.8 513.1,72.0 514.0,65.2 514.6,75.8 515.5,71.3 516.1,65.2 517.3,60.7 518.5,59.5 519.7,60.7 520.6,68.3 522.1,69.5 523.7,69.0 524.6,59.2 525.8,57.7 527.0,63.7 528.5,69.0 530.0,70.5 531.8,69.8 533.0,65.2 534.2,59.2 535.1,53.9 535.7,60.7 536.3,47.1 537.2,44.9 538.4,45.6 539.0,57.7 539.6,68.3 540.5,78.8 541.5,84.9 542.7,87.1 543.6,90.9 544.5,89.4 545.1,99.9 546.0,90.9 546.9,96.9 547.8,89.4 549.0,90.9 549.9,93.9 550.2,110.5 550.2,110.5 549.9,138.7 551.1,139.9 552.9,141.8 554.7,143.6 556.5,145.5 558.4,147.8 560.2,150.1 562.0,151.6 563.2,147.8 564.1,143.3 565.0,139.5 565.6,155.3 566.5,170.4 567.4,181.0 568.6,185.2 569.5,179.5 570.4,167.4 571.3,161.4 572.8,161.1 574.3,161.4 575.2,170.4 576.5,181.7 577.4,176.4 578.3,170.4 579.2,176.4 580.1,167.4 581.0,173.4 581.6,162.1 582.5,177.2 583.4,168.9 584.3,161.4 584.9,154.6 585.0,165.9 586.5,165.1 588.0,164.4 589.2,155.3 590.1,159.9 591.0,173.4 591.9,184.0 593.1,189.3 594.4,184.0 595.3,173.4 596.2,167.4 597.1,158.3 598.3,152.3 599.5,146.3 600.4,132.7 601.3,117.6 602.2,108.6 603.1,107.1 604.0,111.6 604.6,125.2 605.2,140.2 606.1,155.3 607.0,167.4 607.9,178.0 609.1,184.0 610.3,184.0 611.5,176.4 612.8,164.4 614.0,155.3 615.2,146.3 616.4,140.2 617.6,134.2 618.5,125.2 619.1,132.7 619.7,149.3 620.6,167.4 621.5,179.5 622.7,187.0 624.2,190.0 625.7,190.3 627.5,187.8 629.3,184.0 631.1,181.0 633.3,179.5 635.4,177.2 637.2,174.9 638.7,170.4 639.9,165.9 640.8,158.3 641.7,147.8 642.3,135.7 642.9,117.6 643.5,102.5 644.1,98.3 645.0,99.5 645.9,105.6 646.8,114.6 648.0,128.2 649.2,140.2 650.5,150.8 651.7,158.3 652.6,153.8 653.5,144.8 654.4,132.7 655.3,120.6 656.2,110.1 657.1,101.0 657.7,95.0 658.3,78.4 659.2,77.7 659.8,95.0 660.7,105.6 661.6,116.1 662.8,128.2 664.0,140.2 665.2,152.3 666.5,162.9 667.4,165.9 668.3,161.4 669.2,156.8 670.4,152.3 671.6,148.5 673.1,146.3 674.6,144.8" fill="none" stroke="#b88443" stroke-width="1.7" stroke-linejoin="round" stroke-linecap="round"/>
<polyline points="416.0,139.2 416.9,138.4 417.5,149.0 418.4,156.5 419.6,162.6 421.2,168.6 422.4,170.9 423.6,164.1 424.8,153.5 425.7,141.4 426.3,132.4 426.9,129.7 427.8,130.1 428.1,135.4 429.0,132.4 430.2,133.6 431.7,132.7 433.5,133.2 435.3,132.4 437.1,131.6 439.0,130.9 440.2,130.1 440.8,117.3 441.4,112.0 442.0,120.3 442.6,124.9 443.5,126.4 444.1,138.4 445.0,146.7 446.2,147.5 447.7,149.0 448.9,150.2 449.8,144.5 450.4,129.4 451.0,123.3 451.6,105.2 451.9,83.4 452.8,83.4 453.1,105.2 453.4,120.3 454.0,117.3 454.6,152.0 455.2,120.3 455.9,123.3 456.1,144.5 456.8,130.9 456.8,135.2 457.4,146.0 458.0,129.4 458.2,129.9 458.6,146.0 459.2,132.4 459.7,126.5 459.8,120.3 460.4,105.2 461.0,106.0 461.2,112.6 461.6,135.4 462.2,144.5 462.7,141.6 462.8,136.9 463.7,141.4 464.6,138.4 464.6,131.7 465.5,144.5 466.4,150.5 466.4,155.2 467.0,133.9 467.6,147.5 467.8,142.8 468.5,138.4 469.1,144.5 469.4,144.5 470.3,139.9 470.8,137.6 471.2,143.0 471.8,129.4 472.4,119.6 472.6,125.7 473.1,126.4 473.6,153.5 474.5,120.5 474.6,126.4 475.2,153.5 475.6,145.6 475.8,138.4 476.7,149.0 477.5,138.0 477.6,141.4 478.5,150.5 479.4,147.5 479.4,151.7 480.3,156.5 480.5,149.1 481.2,147.5 481.8,137.7 482.3,154.5 482.4,155.0 483.3,159.6 483.4,154.5 483.9,150.5 484.8,162.6 485.3,162.5 485.7,152.0 486.5,155.0 486.6,159.6 487.5,146.0 487.6,150.0 488.1,159.6 488.7,168.6 489.4,167.7 489.9,172.4 490.9,176.6 491.4,172.4 492.2,166.5 493.6,171.6 495.0,171.9 496.8,170.4 498.6,169.7 500.4,168.9 501.9,168.2 502.5,153.8 503.1,150.8 503.8,167.4 503.8,170.6 504.4,150.8 504.6,182.5 505.6,182.5 505.6,176.0 505.9,161.4 506.8,164.4 507.0,167.5 507.4,156.8 508.3,158.3 508.6,154.0 508.9,155.3 509.5,168.9 510.1,170.4 510.6,161.1 510.7,155.3 511.3,144.8 511.9,138.0 512.5,138.7 512.8,170.4 513.4,167.4 513.7,135.7 514.3,113.5 515.2,104.5 515.8,87.9 516.4,119.6 517.3,86.4 518.2,84.9 518.8,104.5 519.4,92.4 520.3,125.6 520.9,127.4 523.7,127.9 524.3,110.5 524.9,99.2 525.5,100.0 525.8,125.2 526.1,141.8 527.0,141.0 527.3,102.2 528.5,103.0 530.0,104.5 531.8,106.3 533.6,108.3 534.5,109.0 535.1,95.5 535.7,80.4 536.3,75.1 536.9,75.8 537.5,92.4 538.1,110.5 538.7,118.8 540.2,119.6 540.5,140.2 540.9,152.6 543.3,152.9 546.3,152.9 549.3,152.9 553.5,152.9 553.8,147.0 554.7,146.3 555.3,152.3 555.9,147.0 556.2,128.2 559.2,128.2 559.6,140.2 560.2,143.3 561.1,137.8 561.4,144.0 562.7,148.2 562.9,144.8 563.8,138.7 563.9,127.8 564.4,116.6 565.0,98.5 565.0,101.1 565.6,93.2 566.2,95.5 567.1,104.5 568.0,113.5 568.9,119.6 569.8,124.1 570.4,131.7 571.0,122.6 571.6,114.3 572.2,115.1 572.5,140.2 572.8,147.8 573.7,147.0 574.6,152.3 575.5,147.0 576.5,150.8 577.6,147.0 578.9,150.1 580.1,147.0 581.3,148.5 582.5,147.0 583.1,140.2 583.7,125.2 584.3,110.5 584.9,97.0 585.0,119.1 585.9,98.0 586.8,96.5 587.4,72.1 588.0,72.1 588.6,118.1 589.2,119.6 589.8,147.8 590.4,125.2 590.7,116.9 591.3,144.8 591.5,137.0 592.2,128.2 592.8,143.3 593.0,140.9 593.5,127.4 594.0,143.3 594.1,140.3 595.0,131.2 595.9,144.8 596.0,148.8 596.8,134.2 597.4,117.6 597.9,115.5 598.0,117.6 598.6,144.8 599.5,134.2 599.5,139.3 600.4,147.0 601.2,137.1 601.3,140.2 601.9,156.8 602.5,152.3 603.1,125.9 603.2,131.3 603.7,147.8 604.6,153.8 604.7,147.0 605.5,144.8 606.4,150.1 606.6,152.9 607.3,134.2 607.9,133.9 608.3,134.9 608.5,146.3 609.1,135.0 610.0,135.7 610.1,141.2 610.6,146.3 611.5,149.3 611.8,140.2 612.5,140.2 613.4,150.8 613.6,151.6 614.3,140.2 615.2,147.8 615.4,138.7 616.1,137.2 616.7,123.7 617.0,133.2 617.3,132.7 617.9,152.3 618.4,137.7 618.5,140.2 619.1,153.1 619.7,134.2 620.0,131.2 620.3,122.2 620.9,134.2 621.5,152.3 621.6,142.3 622.1,131.2 622.7,146.3 623.3,115.4 623.4,124.4 623.9,132.7 624.5,146.3 624.8,131.3 625.1,128.2 625.7,140.2 626.4,137.7 626.6,131.2 627.5,137.2 628.2,125.9 628.4,125.2 629.0,131.2 629.6,110.1 629.9,111.5 630.2,108.6 630.9,116.1 631.5,99.5 631.5,97.1 632.1,119.1 632.7,98.0 632.8,101.8 633.3,89.0 633.9,87.9 634.3,82.8 635.1,87.9 635.7,119.6 636.0,129.7 636.2,136.0 636.6,140.2 637.2,158.3 637.2,155.2 637.8,167.4 638.7,172.7 638.9,175.7 640.1,166.6 640.2,173.1 642.0,172.7 643.2,170.4 643.5,155.3 644.1,147.8 644.7,146.3 645.0,155.8 645.3,158.3 645.9,179.5 646.5,150.8 646.7,152.4 647.1,171.9 647.8,153.8 648.1,171.6 648.4,173.4 649.0,155.3 649.6,170.4 650.0,152.4 650.2,153.8 650.8,171.9 651.4,158.3 651.4,163.4 652.0,167.4 652.6,159.9 652.7,158.6 653.2,165.9 653.8,159.9 654.2,165.0 654.7,157.6 655.6,165.9 656.0,164.0 656.5,173.4 657.4,178.0 657.9,176.9 658.3,170.4 659.1,173.0 659.2,178.0 660.1,168.9 660.4,174.6 661.0,176.4 661.9,157.4 661.9,161.4 662.5,173.4 663.1,152.3 663.3,160.2 663.7,164.4 664.3,179.5 665.1,176.6 665.2,184.0 666.1,181.0 666.6,173.0 666.8,167.4 667.4,179.5 668.0,165.9 668.6,152.3 668.9,125.2 669.2,50.2 670.1,29.4 671.3,29.4 671.9,65.3 672.2,110.1 672.5,144.8 673.1,132.7 673.7,123.7 674.3,147.8 674.9,122.2 675.8,119.9 676.4,117.6 677.0,149.3" fill="none" stroke="#962c96" stroke-width="1.7" stroke-linejoin="round" stroke-linecap="round"/>
<polyline points="55.0,709.2 55.7,703.5 56.2,707.8 56.9,693.6 57.1,680.9 57.7,652.5 58.2,653.2 58.8,680.9 59.4,702.1 60.2,700.7 60.8,689.4 61.3,690.5 61.4,680.9 61.9,669.5 62.5,658.2 63.0,658.9 63.6,680.9 63.7,695.8 64.2,683.7 64.8,689.4 65.3,697.9 65.9,695.0 66.5,680.9 67.0,672.4 67.6,683.7 68.2,700.7 68.7,707.8 69.6,711.3 70.4,709.2 71.0,680.9 71.3,645.4 71.8,645.4 72.4,680.9 73.0,695.0 73.3,666.7 73.5,612.8 74.4,612.8 74.7,652.5 75.2,666.7 75.5,687.5 75.8,680.9 76.4,695.0 76.7,666.7 77.2,636.2 77.5,683.7 78.1,636.2 78.6,666.7 79.2,659.6 79.4,683.5 79.8,638.3 80.6,592.1 81.2,592.1 81.7,670.3 81.8,652.5 82.3,665.3 82.9,664.6 83.3,690.4 83.5,673.8 84.0,683.7 84.9,689.4 85.7,683.7 86.1,682.6 86.3,652.5 86.9,640.5 87.7,640.5 88.3,689.2 88.3,663.9 88.8,652.5 89.4,636.2 89.9,667.3 90.3,636.2 90.8,659.6 91.4,669.5 92.0,678.0 92.5,663.9 92.7,695.2 93.1,700.7 94.0,660.3 94.5,666.7 94.5,683.8 95.1,699.3 95.7,652.5 96.1,670.6 96.5,628.4 97.3,627.7 97.9,692.1 97.9,645.4 98.5,652.5 99.3,627.0 100.1,681.4 100.5,626.3 101.0,652.5 101.6,710.6 102.2,680.9 102.7,672.4 103.3,659.6 103.9,652.5 104.3,691.3 104.7,652.5 105.3,666.7 105.8,678.0 106.3,686.2 106.4,659.6 107.0,643.3 107.8,643.3 108.4,690.8 108.4,666.7 109.0,678.0 109.5,686.5 110.1,688.6 110.1,680.9 111.0,683.7 111.5,692.2 112.4,700.7 113.2,707.8 113.8,666.7 114.0,683.0 114.4,652.5 114.9,646.1 115.8,646.1 116.0,695.9 116.3,666.7 116.9,680.9 117.5,695.0 118.0,709.9 118.6,700.7 119.5,689.4 120.0,680.9 120.4,694.1 120.6,678.0 121.2,695.0 122.0,707.8 123.1,680.9 124.0,666.7 124.5,638.3 125.1,677.6 125.1,603.9 125.9,603.9 126.5,618.5 126.7,692.8 127.3,619.9 127.9,631.3 128.5,635.5 128.6,680.3 129.1,652.5 129.6,669.5 130.3,694.6 130.5,669.5 131.3,668.1 131.9,680.9 132.7,689.4 133.6,695.0 134.2,686.5 134.7,694.9 135.0,678.0 135.9,666.7 136.7,652.5 137.0,689.8 137.3,646.9 138.1,646.9 138.6,692.3 138.7,666.7 139.3,689.4 139.8,700.7 140.7,709.2 141.8,712.0 143.5,712.3 145.5,711.3 147.2,712.0 148.9,709.2 150.0,706.4 151.2,707.8 152.6,706.4 154.0,707.1 155.4,703.5 156.6,707.8 157.7,710.6 159.1,712.0 160.5,711.3 161.9,712.3 163.1,709.2 163.6,680.9 164.2,684.8 164.2,640.5 165.1,640.0 165.6,680.9 165.7,694.9 166.2,700.7 167.0,709.2 167.9,707.8 168.7,703.5 169.6,700.7 170.4,702.1 171.3,697.9 172.1,695.0 172.7,680.9 173.3,652.5 173.8,692.1 173.8,634.1 174.7,633.8 175.3,666.7 175.6,690.5 175.8,689.4 176.4,709.2 177.2,712.0 178.1,700.7 178.9,697.9 179.8,702.1 180.4,712.0 181.2,709.2 182.1,700.7 183.2,703.5 184.0,695.0 184.8,703.5 185.7,699.3 186.6,700.7 187.4,709.2 188.2,703.5 189.1,709.2 189.9,700.7 190.8,695.0 191.7,697.9 192.5,689.4 193.3,689.4 194.2,700.7 195.1,697.9 195.9,695.0 196.8,696.5 197.3,695.8 197.3,680.9 197.9,645.4 198.5,645.4 199.0,680.9 199.6,700.7 200.4,711.3 201.0,680.9 201.3,679.2 201.7,578.2 202.3,578.2 203.0,666.7 203.6,689.4 204.1,697.9 205.0,703.5 205.8,709.2 206.4,695.0 207.0,666.7 207.7,597.5 207.9,676.0 208.2,597.5 208.9,652.5 209.5,672.4 210.1,680.9 210.1,695.9 210.6,666.7 211.2,649.7 211.8,650.4 211.9,678.5 212.3,672.4 212.9,689.4 213.5,695.0 214.1,680.9 214.5,684.0 214.6,658.2 215.2,658.9 215.8,680.9 216.3,689.4 216.8,694.4 216.9,666.7 217.4,652.5 218.0,652.5 218.6,672.4 219.2,680.9 219.4,691.1 219.7,666.7 220.3,638.3 220.8,628.4 221.6,695.0 221.7,627.0 222.3,602.1 223.0,602.1 223.5,675.5 223.7,638.3 224.2,661.0 225.1,666.7 225.9,691.0 225.9,658.2 226.5,666.7 227.1,652.5 227.7,624.2 227.7,663.0 228.4,597.5 228.9,597.5 229.6,638.3 230.0,695.0 230.2,666.7 230.8,689.4 231.3,700.7 231.9,703.5 232.8,695.0 233.6,697.9 234.4,689.4 235.3,695.0 236.2,689.4 237.0,680.9 237.8,689.4 238.7,680.9 239.6,669.5 240.4,685.4 240.4,666.7 241.0,652.5 241.8,651.1 242.2,684.7 242.4,652.5 243.0,645.4 243.5,639.0 244.1,639.8 244.7,659.6 244.9,686.9 245.2,669.5 245.8,665.3 246.4,672.4 247.2,678.0 247.5,688.7 248.1,680.9 248.9,678.0 249.8,672.4 250.0,680.9 250.2,693.4 250.6,670.9 251.1,670.2 251.7,689.4 252.3,700.7 252.8,707.8 254.0,706.4 254.8,700.7 255.7,703.5 256.5,695.0 257.4,689.4 258.2,695.0 259.1,689.4 259.9,697.9 260.8,700.7 261.6,709.2 262.8,711.3 263.9,710.9 265.0,709.2 265.9,695.0 266.4,666.7 267.0,621.3 267.6,621.3 267.7,666.2 268.1,652.5 268.7,663.9 269.6,663.9 269.8,686.4 270.1,672.4 271.0,675.2 271.5,694.8 271.8,680.9 272.7,689.4 273.5,700.7 274.4,707.8 275.2,700.7 276.1,680.9 276.6,638.3 277.5,562.4 277.6,649.9 278.1,562.4 278.9,652.5 279.5,666.7 280.0,693.7 280.1,658.2 280.9,656.8 281.6,693.2 281.8,657.5 282.3,666.7 282.9,675.2 283.3,691.3 283.7,678.0 284.6,676.6 285.4,672.4 285.8,684.5 286.3,666.7 287.1,666.0 288.0,666.7 288.4,684.6 288.8,663.9 289.4,658.2 290.0,638.3 290.6,670.4 290.8,596.1 291.4,596.1 292.2,652.5 292.4,694.5 292.8,680.9 293.4,695.0 293.9,707.8 294.8,700.7 295.6,689.4 296.5,695.0 297.3,700.7 298.2,695.0 299.0,689.4 299.9,697.9 300.7,700.7 301.6,695.0 302.4,689.4 303.3,697.9 304.1,706.4 305.0,709.2 305.8,700.7 306.7,707.8 307.5,706.4 308.4,700.7 309.2,707.8 310.1,700.7 310.9,709.2 311.5,680.9 312.1,624.9 312.9,624.9 313.5,666.7 313.9,693.1 314.1,695.0 314.9,700.7 315.5,697.9 316.0,703.5" fill="none" stroke="#f0a02e" stroke-width="1.45" stroke-linejoin="round" stroke-linecap="round"/>
<polyline points="55.0,713.7 56.0,712.0 56.8,700.7 56.9,702.0 57.4,686.5 58.0,700.7 58.5,706.4 59.1,695.0 59.6,680.9 60.2,666.7 60.8,657.5 61.5,673.6 61.6,658.2 62.2,680.9 62.8,707.8 63.6,700.7 64.2,700.4 64.5,697.9 65.3,702.1 66.2,699.3 66.7,689.4 67.0,694.1 67.3,680.9 67.9,672.4 68.4,663.9 69.0,652.5 69.6,641.9 69.7,666.5 70.4,644.0 71.0,666.7 71.6,689.4 72.1,700.7 72.7,699.9 72.7,697.9 73.3,700.7 74.1,702.1 75.0,700.7 75.8,703.5 76.7,700.7 76.9,701.7 77.2,695.0 78.1,691.5 78.9,692.2 78.9,698.5 79.8,700.7 80.3,709.2 81.2,697.9 81.8,689.4 81.8,699.2 82.3,695.0 82.9,709.2 83.8,711.3 84.3,700.7 84.9,695.0 85.5,703.5 86.0,707.8 86.6,697.9 87.2,692.2 87.7,700.7 88.3,707.8 88.8,695.0 89.4,689.4 90.0,700.7 90.5,690.8 90.7,699.1 91.4,689.4 92.0,683.7 92.5,675.2 92.7,690.2 93.1,670.9 93.7,686.5 94.2,678.0 94.8,663.9 95.3,674.4 95.4,666.7 95.9,680.9 96.5,672.4 97.1,669.5 97.5,694.0 97.6,683.7 98.2,672.4 98.8,669.5 99.3,680.9 99.9,689.4 100.5,672.4 100.5,682.1 101.0,666.7 101.6,678.0 102.2,669.5 102.7,659.6 103.3,658.9 103.5,680.5 103.9,672.4 104.4,695.0 105.0,707.8 105.6,689.4 105.8,694.4 106.1,678.0 106.7,680.9 107.3,709.2 107.8,689.4 107.9,697.0 108.4,676.6 109.0,663.9 109.5,663.1 110.1,672.4 110.7,666.7 110.7,685.4 111.2,669.5 111.8,689.4 112.4,678.0 112.9,668.1 113.2,682.6 113.5,672.4 114.1,680.9 114.6,672.4 115.2,666.7 116.1,666.0 116.3,675.5 116.6,675.2 117.2,689.4 117.8,678.0 118.0,680.9 118.3,689.8 118.6,676.6 119.4,686.5 120.3,689.4 121.1,680.9 121.2,685.4 121.7,674.5 122.2,683.7 123.1,695.0 123.4,699.2 123.7,689.4 124.2,666.7 124.8,660.3 125.4,672.4 125.4,689.6 125.9,689.4 126.8,700.7 127.3,700.4 127.6,695.0 128.5,707.8 129.1,695.0 129.6,678.0 130.2,669.5 130.4,679.3 130.8,670.2 131.3,689.4 131.9,707.8 132.7,697.9 132.8,701.8 133.6,689.4 134.2,695.0 134.7,686.5 135.3,678.0 135.3,687.4 135.9,669.5 136.4,663.1 137.3,663.9 137.4,682.7 137.8,675.2 138.4,683.7 139.0,676.6 139.5,683.7 139.9,688.0 140.1,672.4 140.7,670.9 141.2,663.9 141.8,672.4 141.9,680.6 142.4,666.7 142.9,659.6 143.5,658.9 144.1,666.7 144.6,663.9 144.8,690.5 145.2,675.2 145.8,666.7 146.3,678.0 146.6,692.3 146.9,700.7 147.5,707.8 148.3,700.7 149.2,703.5 150.0,697.9 150.6,702.1 151.2,695.0 151.6,695.2 151.7,686.5 152.3,695.0 152.9,700.7 153.4,689.4 154.0,700.7 154.6,689.4 155.1,683.0 155.7,695.0 156.3,707.8 157.1,700.7 157.7,695.0 158.2,689.4 158.8,683.7 159.4,689.4 159.8,687.9 159.9,678.0 160.5,666.7 161.1,665.3 161.5,682.3 161.7,678.0 162.2,669.5 162.8,680.9 163.3,666.7 163.9,677.4 163.9,665.3 164.5,675.2 165.1,689.4 165.6,678.0 165.8,693.9 166.2,675.2 167.0,678.0 167.6,672.4 168.2,666.7 168.5,680.1 168.7,672.4 169.3,663.9 169.9,661.0 170.2,684.1 170.4,662.4 171.0,672.4 171.6,678.0 172.1,672.4 172.7,683.7 172.7,695.5 173.3,678.0 173.8,689.4 174.4,678.0 174.8,683.2 175.0,666.7 175.5,678.0 176.1,689.4 176.7,672.4 177.0,675.5 177.2,663.9 177.8,672.4 178.4,662.4 178.9,661.7 179.5,672.4 179.7,687.6 180.1,689.4 180.6,680.9 181.2,672.4 181.8,666.7 182.3,666.7 182.6,688.6 182.9,683.7 183.5,695.0 184.0,707.8 184.7,701.7 184.8,695.0 185.7,689.4 186.6,692.2 186.6,695.3 187.4,695.0 188.0,686.5 188.3,692.3 188.8,685.8 189.4,695.0 189.9,707.8 190.8,711.3 191.7,703.5 192.5,709.2 193.3,702.1 194.2,709.2 195.1,700.7 195.9,707.8 196.8,697.9 197.6,700.7 198.2,709.2 198.7,695.0 199.3,700.7 199.9,689.4 200.1,686.6 200.4,666.7 201.0,652.5 201.6,635.5 202.1,635.5 202.2,664.9 202.7,666.7 203.3,695.0 203.8,689.4 204.3,695.3 204.4,683.7 205.3,683.0 205.8,689.4 206.4,686.5 207.0,695.0 207.4,696.4 207.5,689.4 208.1,700.7 208.7,695.0 209.2,709.2 210.1,706.4 210.9,700.7 211.8,707.8 212.3,700.7 213.2,703.5 214.1,706.4 214.9,700.7 215.3,698.0 215.5,689.4 216.0,678.0 216.6,666.7 217.2,663.9 217.7,678.0 218.0,695.0 218.3,689.4 218.9,680.9 219.4,689.4 219.7,695.0 220.0,695.0 220.6,700.7 221.1,712.0 221.7,713.7 222.3,695.0 222.8,666.7 223.3,682.4 223.4,648.3 224.0,651.1 224.5,658.2 225.1,656.8 225.7,672.4 226.2,689.4 226.3,697.0 226.8,680.9 227.4,669.5 227.9,689.4 228.5,707.8 229.1,666.7 229.2,674.5 229.6,647.6 230.2,651.1 230.8,672.4 231.1,692.9 231.3,678.0 231.9,675.2 232.5,683.7 233.0,689.4 233.6,697.9 233.9,702.7 234.2,700.7 234.7,695.0 235.3,700.7 235.9,680.9 236.4,638.3 237.0,622.0 237.0,657.8 237.6,638.3 238.1,678.0 238.7,686.5 238.9,697.9 239.3,683.7 239.8,689.4 240.4,692.2 241.0,695.0 241.1,699.2 241.8,700.7 242.7,697.9 242.8,702.1 243.5,700.7 244.4,706.4 245.2,709.2 246.1,712.0 246.9,711.3 247.8,707.8 248.6,695.0 249.2,683.7 249.8,686.5 250.0,700.7 250.8,701.4 251.7,695.0 252.3,683.7 252.8,672.4 253.3,681.5 253.4,661.0 254.0,663.9 254.5,658.2 255.1,647.6 255.2,668.7 255.7,652.5 256.2,666.7 256.8,678.0 257.4,669.5 257.9,680.9 258.3,698.1 258.5,689.4 259.1,678.0 259.6,670.9 260.2,680.9 260.8,700.7 261.0,699.5 261.3,695.0 261.9,702.1 262.5,690.8 263.0,695.0 263.6,700.7 264.0,701.1 264.2,692.2 265.0,691.5 265.7,698.8 265.9,695.0 266.7,693.6 267.6,697.9 268.4,703.5 269.3,707.8 270.1,706.4 271.0,709.2 271.8,711.3 272.7,707.8 273.2,695.0 273.8,700.7 274.4,689.4 274.8,686.9 274.9,678.0 275.5,683.7 276.1,695.0 276.6,707.8 277.2,700.7 277.6,697.9 277.8,692.2 278.3,689.4 278.9,695.0 279.5,700.7 280.1,712.0 280.6,700.7 281.2,689.4 281.8,683.7 282.3,689.4 282.9,678.0 283.4,691.6 283.4,689.4 284.0,709.2 284.6,695.0 285.1,689.4 285.7,700.7 286.3,703.5 287.1,700.7 287.9,699.1 288.0,695.0 288.6,689.4 289.1,697.9 289.7,689.4 290.2,678.0 290.8,666.7 290.8,679.8 291.4,663.9 291.9,652.5 292.5,624.2 292.6,656.5 293.1,614.2 293.4,624.2 293.6,712.0 294.2,666.7 294.8,656.8 295.4,658.2 295.7,676.1 295.9,678.0 296.5,707.8 297.1,695.0 297.6,683.7 298.2,678.0 298.2,694.3 298.8,676.6 299.3,689.4 299.9,709.2 300.4,700.7 301.0,678.0 301.6,655.4 302.1,654.6 302.2,673.4 302.7,666.7 303.3,689.4 303.9,707.8 304.4,695.0 304.8,697.1 305.0,678.0 305.6,666.7 306.1,665.3 306.7,689.4 306.8,699.3 307.3,707.8 307.8,689.4 308.4,669.5 309.0,666.7 309.5,678.0 309.9,700.2 310.1,700.7 310.7,689.4 311.2,666.7 311.8,661.0 311.9,671.3 312.4,672.4 312.9,703.5 313.5,680.9 314.1,666.7 314.1,682.3 314.6,669.5 315.2,656.1 315.8,656.8 316.0,686.5" fill="none" stroke="#4a8fd2" stroke-width="1.7" stroke-linejoin="round" stroke-linecap="round"/>
<polyline points="415.8,666.7 416.1,663.9 416.7,638.3 417.2,611.4 417.6,658.1 418.1,611.4 418.7,652.5 419.2,680.9 419.8,689.4 420.2,690.4 420.4,666.7 420.9,659.6 421.5,661.0 422.1,680.9 422.3,694.7 422.6,695.0 423.2,700.7 423.8,680.9 424.3,662.4 424.7,687.6 424.9,661.7 425.5,680.9 426.0,666.7 426.3,688.2 426.6,652.5 427.5,652.2 428.0,680.9 428.6,695.0 429.2,700.7 429.7,707.8 430.6,709.2 431.4,700.7 432.0,680.9 432.6,652.5 432.8,636.6 433.7,636.4 434.3,666.7 434.4,690.3 434.8,689.4 435.4,700.7 436.0,695.0 436.5,686.5 437.4,683.7 437.9,689.4 438.5,685.1 439.1,683.7 439.6,689.4 440.2,666.7 440.2,687.3 440.8,647.1 441.6,647.1 442.0,683.5 442.2,666.7 442.8,689.4 443.3,700.7 443.9,707.8 444.5,700.7 445.0,692.2 445.6,685.8 446.4,685.1 447.0,695.0 447.6,689.4 448.1,680.9 448.7,678.7 449.5,693.1 449.6,678.0 450.4,677.7 451.3,678.7 451.3,689.0 451.8,689.4 452.4,700.7 453.0,706.4 453.8,700.7 454.4,695.0 454.9,687.2 455.8,686.5 456.4,695.0 456.9,703.5 457.8,709.2 458.6,710.6 459.5,700.7 460.0,695.6 460.1,680.9 460.3,663.6 461.2,663.3 461.8,680.9 461.8,690.4 462.3,700.7 462.9,709.2 463.7,703.5 464.6,697.9 465.4,695.0 466.3,693.6 467.1,689.4 467.7,678.7 468.3,678.0 468.4,694.3 468.8,689.4 469.4,703.5 470.0,709.2 470.5,695.0 471.1,676.6 471.8,694.1 472.0,676.3 472.5,689.4 473.1,700.7 473.9,697.9 474.8,695.7 475.6,696.5 476.5,700.7 477.3,702.1 478.2,695.0 478.8,686.5 479.0,689.4 479.9,695.0 480.7,700.7 481.6,695.0 482.4,689.4 483.2,683.7 484.1,678.0 484.3,690.4 484.9,652.5 485.5,645.4 486.1,684.5 486.1,666.7 486.9,695.0 487.5,680.9 488.1,652.5 488.4,675.0 488.6,624.9 489.2,624.9 489.8,652.5 490.3,672.4 490.4,695.7 490.9,678.0 491.5,689.4 492.0,707.8 492.9,700.7 493.5,680.9 494.0,666.7 494.8,682.4 494.9,665.3 495.7,664.6 496.6,663.9 496.9,683.5 497.4,664.6 498.0,652.5 498.3,644.7 499.1,644.7 499.7,686.6 499.7,666.7 500.3,689.4 500.8,706.4 501.4,689.4 502.0,666.7 502.1,692.7 502.5,663.1 503.1,666.7 503.7,678.0 503.8,692.7 504.2,680.9 504.8,675.2 505.4,672.4 506.2,673.1 506.7,685.2 507.1,672.4 507.9,678.0 508.4,686.5 508.5,666.7 509.1,650.4 509.9,650.4 510.5,672.4 510.9,691.2 511.0,680.9 511.6,676.6 512.5,680.9 513.3,689.4 514.1,700.7 515.0,706.4 515.6,680.9 516.1,638.3 516.6,612.4 517.0,612.4 517.3,591.0 518.2,648.4 518.4,591.0 519.0,624.2 519.5,640.5 520.6,670.2 521.0,640.5 522.2,676.8 522.4,640.0 523.8,640.5 524.4,652.5 524.8,683.6 524.9,666.7 525.5,669.5 526.0,666.7 526.6,655.4 527.2,682.3 527.2,651.8 527.8,666.7 528.3,656.8 528.7,692.3 528.9,656.1 529.5,666.7 530.0,678.0 530.6,689.4 531.1,697.9 531.7,706.4 532.6,707.8 533.4,700.7 534.0,680.9 534.4,687.0 534.6,668.1 535.4,667.4 536.3,669.5 536.5,695.2 537.1,668.8 538.0,668.1 538.5,672.4 538.8,687.7 539.1,680.9 539.7,689.4 540.2,695.0 540.8,689.4 541.4,686.5 542.2,687.2 543.1,689.4 543.9,695.0 544.8,700.7 545.0,697.9 545.9,700.7 546.7,703.5 547.5,700.7 548.4,695.0 549.2,689.4 549.8,694.1 550.1,680.9 550.7,672.4 551.2,671.6 551.5,693.4 551.8,683.7 552.4,689.4 552.9,695.0 553.5,700.7 554.1,709.2 554.6,711.3 555.2,680.9 555.8,646.9 556.2,694.4 556.6,646.9 557.2,666.7 557.8,675.2 558.3,678.0 558.5,691.3 558.9,672.4 559.7,671.6 560.1,684.6 560.6,670.9 561.4,666.7 562.0,652.5 562.6,649.0 562.7,691.9 563.1,649.7 563.7,661.0 564.3,666.7 564.6,685.4 564.8,658.2 565.4,655.4 566.0,666.7 566.5,680.9 567.1,666.7 567.2,685.5 567.7,656.1 568.2,656.8 568.8,672.4 569.4,680.9 569.6,693.6 569.9,666.7 570.5,656.1 571.4,655.6 571.7,688.0 571.9,666.7 572.5,680.9 573.1,695.0 573.6,706.4 574.5,713.5 575.3,712.8 576.2,695.0 576.8,652.5 577.3,624.2 577.7,577.1 578.5,577.1 578.5,658.8 579.0,624.2 579.6,652.5 580.1,678.0 580.7,689.4 581.3,666.7 581.4,695.4 581.9,645.4 582.4,624.2 583.0,618.5 583.2,667.1 583.5,618.5 584.1,638.3 584.7,645.4 585.2,682.2 585.5,644.7 586.4,644.0 587.0,649.7 587.4,679.9 587.5,652.5 588.1,655.4 588.6,659.6 589.3,682.6 589.5,658.2 590.1,666.7 590.6,675.2 590.9,687.2 591.2,672.4 592.0,678.0 592.9,686.5 593.8,692.2 594.6,697.9 595.5,700.7 596.3,697.9 597.1,695.0 598.0,689.4 598.6,666.7 599.1,638.3 599.7,622.8 599.9,685.0 600.6,622.5 601.1,638.3 601.7,682.4 601.7,639.8 602.3,652.5 602.8,666.7 603.4,652.5 604.0,624.2 604.2,691.2 604.5,616.0 605.4,616.0 605.9,638.3 606.5,652.5 606.9,685.5 607.1,658.2 607.6,666.7 608.2,672.4 608.8,678.0 609.0,693.4 609.3,669.5 609.9,666.7 610.5,652.5 610.6,679.8 610.9,638.3 611.0,652.5 611.6,628.1 612.1,628.1 612.7,666.7 612.8,692.9 613.3,689.4 613.8,695.0 614.7,692.2 615.5,690.8 616.4,691.5 617.2,695.0 618.1,697.9 618.9,695.0 619.8,689.4 620.4,683.7 620.9,683.0 621.8,689.4 622.6,680.9 623.5,672.4 624.3,666.7 624.5,695.0 625.2,663.9 625.7,661.0 626.3,660.3 626.9,666.7 626.9,687.2 627.4,663.9 628.3,663.1 628.9,678.0 629.4,695.0 630.3,703.5 631.1,707.8 632.0,706.4 632.8,700.7 633.7,707.8 634.5,708.5 635.4,700.7 635.9,680.9 636.0,695.0 636.5,666.7 637.1,661.0 637.6,685.8 637.6,666.7 638.2,672.4 638.8,666.7 639.3,666.0 639.7,686.4 639.9,678.0 640.5,700.7 641.0,707.8 641.3,666.7 641.6,624.2 642.0,585.2 642.4,643.1 642.9,585.2 643.6,624.2 644.2,648.3 644.7,675.6 644.7,649.7 645.3,666.7 645.9,678.0 646.4,666.7 647.0,652.5 647.1,692.2 647.6,638.3 648.1,617.1 648.6,606.5 649.3,606.5 649.6,677.3 649.8,638.3 650.4,680.9 651.0,707.8 651.5,695.0 652.1,666.7 652.2,690.2 652.7,645.4 653.2,645.1 653.8,666.7 654.4,689.4 654.9,683.7 655.5,689.4 656.1,707.8 656.6,709.2 657.2,700.7 657.8,689.4 658.3,695.0 658.9,700.7 659.5,695.0 660.0,700.7 660.6,707.8 661.2,680.9 661.7,648.3 662.3,648.0 662.7,679.9 662.9,666.7 663.4,652.5 664.0,624.2 664.6,615.7 665.1,672.6 665.4,615.7 666.0,623.5 666.8,623.5 667.0,676.4 667.4,652.5 668.0,662.4 668.5,666.7 669.1,624.2 669.4,678.5 669.5,608.6 670.2,608.6 670.8,638.3 671.4,672.4 671.9,689.1 671.9,680.9 672.5,683.7 673.1,678.0 673.6,680.9 674.2,695.0 674.8,709.2 675.3,680.9 675.6,661.7 676.0,679.8 676.2,661.7 676.6,678.0" fill="none" stroke="#f0a02e" stroke-width="1.45" stroke-linejoin="round" stroke-linecap="round"/>
<polyline points="415.8,713.7 416.1,695.0 416.7,682.3 417.0,695.5 417.2,686.5 417.8,709.2 418.7,713.5 419.5,700.7 420.1,680.9 420.6,659.6 420.9,678.6 421.2,652.5 421.8,638.3 422.4,621.3 422.9,621.3 423.5,652.5 423.5,663.7 424.1,680.9 424.6,700.7 425.2,709.2 425.8,703.5 426.3,697.9 426.9,700.7 427.5,707.8 428.0,700.7 428.6,695.0 428.8,698.6 429.2,700.7 429.7,689.4 430.3,692.2 430.9,700.7 431.4,707.8 432.3,700.7 432.8,695.0 433.4,700.7 434.0,695.0 434.5,689.4 435.1,683.7 435.6,691.8 435.7,684.4 436.2,695.0 436.8,700.7 437.4,695.0 437.5,701.7 437.9,700.7 438.5,692.2 439.1,689.4 439.6,698.7 439.6,697.9 440.2,689.4 440.8,680.9 441.3,679.4 441.4,687.6 441.9,695.0 442.5,703.5 443.3,700.7 444.2,702.1 445.0,709.2 445.9,706.4 446.7,700.7 447.6,697.9 448.0,700.4 448.4,700.7 449.3,697.9 450.1,695.0 451.0,691.5 451.1,698.9 451.8,692.2 452.7,703.5 453.5,709.2 454.4,712.0 455.2,707.8 456.1,703.5 456.9,705.0 457.8,702.1 458.6,706.4 459.5,703.5 460.3,702.1 461.2,705.0 462.0,702.1 462.9,703.5 463.7,705.0 464.6,702.1 465.4,700.7 466.3,700.0 467.1,702.1 468.0,700.7 468.8,702.1 469.7,700.7 470.5,703.5 471.4,700.7 472.2,702.1 473.1,700.7 473.9,703.5 474.8,702.1 475.6,700.7 476.5,703.5 477.3,707.8 477.9,700.7 478.5,680.9 478.9,676.6 479.0,666.7 479.6,664.6 480.1,672.4 480.3,691.1 480.7,689.4 481.3,700.7 481.8,707.8 482.4,695.0 482.6,693.1 483.0,680.9 483.5,666.7 484.1,652.5 484.7,644.0 485.2,644.7 485.2,659.3 485.8,666.7 486.4,695.0 486.9,712.0 487.5,709.2 488.1,700.7 488.6,689.4 489.2,683.7 489.8,678.0 490.0,689.3 490.3,672.4 490.9,673.1 491.5,683.7 492.0,675.2 492.6,680.9 492.6,691.5 493.2,695.0 493.7,706.4 494.6,707.8 495.4,706.4 496.3,703.5 497.1,700.7 498.0,697.9 498.6,689.4 498.6,695.3 499.1,680.9 499.7,679.4 500.3,689.4 500.8,680.9 501.0,696.7 501.4,689.4 502.0,697.9 502.5,692.2 503.1,689.4 503.7,695.0 503.7,699.0 504.2,700.7 504.8,695.0 505.4,700.7 505.9,695.0 506.5,700.7 507.1,707.8 507.9,709.2 508.8,703.5 509.6,707.8 510.5,712.0 511.3,700.7 511.9,695.0 512.5,689.4 512.8,697.3 513.0,683.7 513.6,689.4 514.1,666.7 514.7,642.6 515.3,643.3 515.7,684.8 515.9,672.4 516.4,697.9 517.0,700.7 517.5,695.0 518.1,678.0 518.2,692.4 518.7,661.7 519.2,662.4 519.8,680.9 520.4,695.0 521.0,692.2 521.2,701.3 521.5,697.9 522.4,700.7 523.2,697.9 523.5,701.5 524.1,700.7 524.9,703.5 525.8,699.3 526.6,702.1 527.5,697.9 528.3,700.7 529.2,703.5 530.0,700.7 530.9,703.5 531.7,695.0 532.3,666.7 532.6,647.6 532.9,657.5 533.1,647.6 533.7,680.9 534.3,706.4 534.8,703.5 535.4,706.4 536.3,705.0 537.1,707.8 538.0,712.0 538.8,713.7 539.7,712.0 540.2,695.0 540.5,699.0 540.8,680.9 541.4,683.7 541.9,695.0 542.5,700.7 543.3,703.5 544.2,707.8 544.9,709.9 545.0,709.2 545.9,710.6 546.7,709.2 547.3,700.7 547.8,693.6 548.4,692.2 548.5,697.9 549.0,695.0 549.5,689.4 550.1,686.5 550.7,687.2 550.8,697.3 551.2,695.0 551.8,692.2 552.4,690.8 552.7,696.7 552.9,695.0 553.5,692.2 554.1,695.0 554.6,693.6 555.2,700.7 555.5,699.9 555.8,695.0 556.3,692.2 557.2,695.0 558.0,693.6 558.1,696.4 558.9,697.9 559.7,695.0 560.1,701.3 560.6,700.7 561.4,695.0 562.3,696.5 563.1,698.1 563.1,692.2 564.0,693.6 564.6,689.4 565.1,687.2 565.7,688.0 566.1,696.1 566.3,695.0 566.8,692.2 567.4,689.4 568.0,695.0 568.5,702.1 568.5,697.9 569.1,692.2 569.7,691.5 570.2,695.0 570.6,701.4 570.8,697.9 571.4,695.0 571.9,700.7 572.8,702.1 573.6,700.7 574.5,706.4 575.3,709.2 576.2,712.0 577.0,709.2 577.9,706.4 578.7,703.5 579.6,706.4 580.4,703.5 581.0,689.4 581.6,685.8 582.1,686.5 582.6,702.3 582.7,700.7 583.3,707.8 584.1,709.2 585.0,712.0 585.8,711.3 586.7,709.2 587.2,689.4 587.2,697.0 587.8,672.4 588.4,670.9 588.9,672.4 589.5,695.0 590.1,709.2 590.9,703.5 591.8,697.9 592.1,702.0 592.3,700.7 592.9,707.8 593.5,700.7 594.0,697.9 594.6,706.4 595.2,709.2 595.7,700.7 596.3,695.0 596.9,694.3 597.4,700.7 598.0,709.2 598.9,707.8 599.4,700.7 600.0,697.9 600.6,703.5 601.1,709.2 601.7,700.7 602.3,695.0 602.8,700.7 603.4,710.6 604.0,700.7 604.5,692.2 605.1,691.5 605.7,700.7 606.2,709.2 606.8,700.7 607.4,695.0 607.9,697.9 607.9,700.6 608.5,709.2 609.1,700.7 609.6,692.2 610.2,691.5 610.8,700.7 611.0,700.7 611.6,695.0 612.1,692.2 612.7,700.7 613.3,709.2 613.8,700.7 614.4,695.0 615.0,706.4 615.5,710.6 616.1,700.7 616.7,697.9 617.2,706.4 617.8,700.7 618.4,709.2 618.9,703.5 619.5,707.8 620.1,702.1 620.6,706.4 621.2,700.7 621.6,699.7 621.8,689.4 622.3,678.0 622.9,666.7 623.5,657.5 624.0,657.5 624.3,679.5 624.6,678.0 625.2,700.7 625.7,707.8 626.3,700.7 626.8,699.1 626.9,695.0 627.4,697.9 628.0,707.8 628.6,700.7 629.1,703.5 629.7,709.2 630.6,711.3 631.4,709.2 632.0,700.7 632.5,689.4 633.1,678.0 633.5,686.7 633.7,666.7 634.2,663.9 634.8,655.4 635.4,656.1 635.9,672.4 636.0,692.8 636.5,680.9 637.1,678.0 637.6,683.7 638.2,678.0 638.8,680.9 638.9,690.4 639.3,689.4 639.9,680.9 640.5,678.0 641.0,680.9 641.6,675.2 641.9,685.2 642.2,673.8 642.8,683.7 643.3,689.4 643.9,686.5 644.5,680.9 645.0,689.4 645.0,699.0 645.6,680.9 646.1,652.5 646.7,636.9 647.3,637.6 647.6,682.2 647.9,680.9 648.4,700.7 649.0,680.9 649.5,652.5 649.7,677.1 650.1,638.3 650.7,652.5 651.2,638.3 651.8,663.7 651.8,625.9 652.4,626.3 653.0,645.4 653.5,680.9 654.1,666.7 654.4,673.0 654.6,652.5 655.2,638.3 655.8,610.0 656.2,601.1 656.3,650.2 656.6,601.1 657.2,638.3 657.8,672.4 658.3,683.7 658.8,691.2 658.9,680.9 659.5,695.0 660.0,683.7 660.6,670.9 661.2,689.4 661.2,671.6 661.7,680.9 662.3,689.4 662.9,683.7 663.4,678.0 664.0,683.7 664.1,691.5 664.6,686.5 665.1,679.4 665.7,678.0 666.3,686.5 666.8,692.2 666.9,694.3 667.4,689.4 668.0,695.0 668.5,680.9 669.1,675.2 669.7,675.9 669.8,684.9 670.2,686.5 670.8,689.4 671.4,692.2 671.9,689.4 672.5,680.9 672.8,695.2 673.1,679.4 673.6,689.4 674.2,697.9 674.8,692.2 674.9,693.9 675.3,689.4 675.9,686.5 676.5,689.4" fill="none" stroke="#4a8fd2" stroke-width="1.7" stroke-linejoin="round" stroke-linecap="round"/>
</g>
</svg>
</body></html>
